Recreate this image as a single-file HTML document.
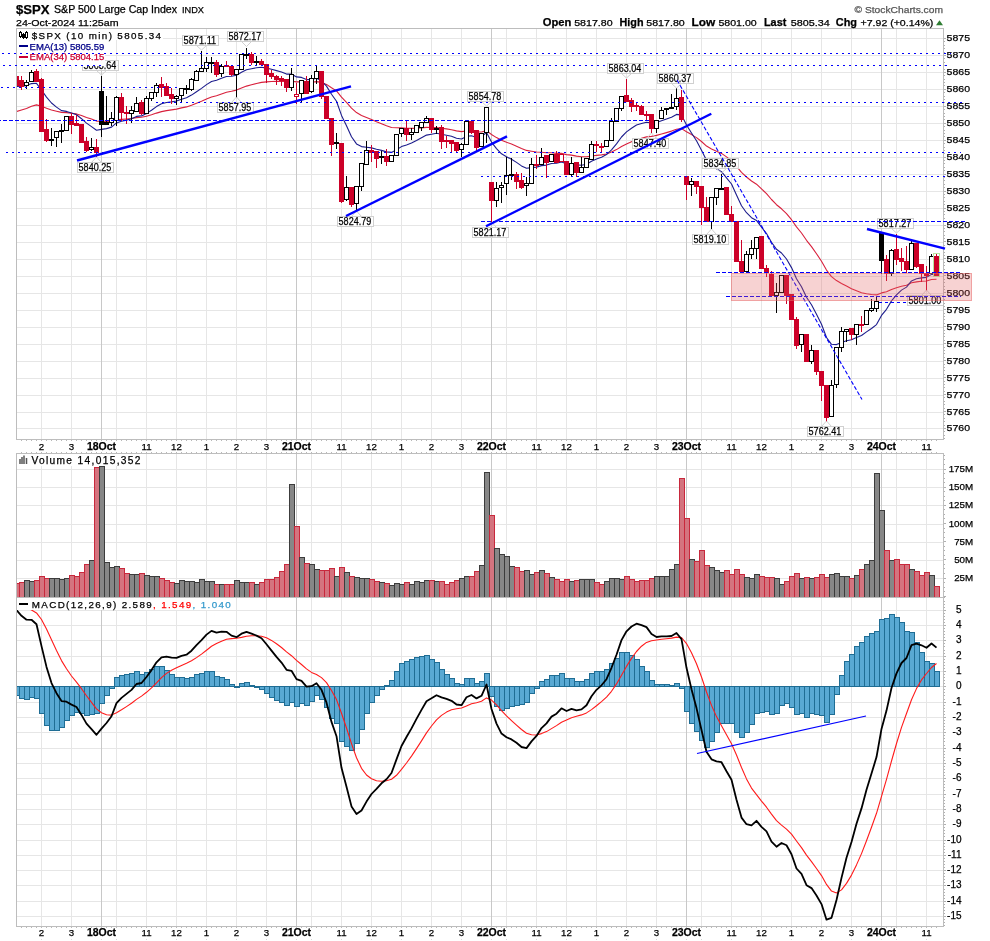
<!DOCTYPE html><html><head><meta charset="utf-8"><style>html,body{margin:0;padding:0;background:#fff;width:990px;height:941px;overflow:hidden;font-family:"Liberation Sans",sans-serif}</style></head><body><svg width="990" height="941" viewBox="0 0 990 941" style="position:absolute;left:0;top:0;display:block;will-change:transform" font-family="Liberation Sans, sans-serif">
<rect x="0" y="0" width="990" height="941" fill="#fff"/>
<defs><clipPath id="cm"><rect x="17" y="29" width="926" height="410"/></clipPath><clipPath id="cd"><rect x="17" y="29" width="600" height="410"/></clipPath><clipPath id="cc"><path clip-rule="evenodd" d="M17,29H943V439H17Z M17,29H163V40H105V66H17Z"/></clipPath><clipPath id="cv"><rect x="17" y="454" width="926" height="143"/></clipPath><clipPath id="ck"><rect x="17" y="598" width="926" height="328"/></clipPath></defs>
<g shape-rendering="crispEdges">
<line x1="16" y1="38.5" x2="943" y2="38.5" stroke="#e6e6e6"/>
<line x1="16" y1="55.5" x2="943" y2="55.5" stroke="#e6e6e6"/>
<line x1="16" y1="72.5" x2="943" y2="72.5" stroke="#e6e6e6"/>
<line x1="16" y1="89.5" x2="943" y2="89.5" stroke="#e6e6e6"/>
<line x1="16" y1="106.5" x2="943" y2="106.5" stroke="#e6e6e6"/>
<line x1="16" y1="123.5" x2="943" y2="123.5" stroke="#e6e6e6"/>
<line x1="16" y1="140.5" x2="943" y2="140.5" stroke="#e6e6e6"/>
<line x1="16" y1="157.5" x2="943" y2="157.5" stroke="#e6e6e6"/>
<line x1="16" y1="174.5" x2="943" y2="174.5" stroke="#e6e6e6"/>
<line x1="16" y1="191.5" x2="943" y2="191.5" stroke="#e6e6e6"/>
<line x1="16" y1="208.5" x2="943" y2="208.5" stroke="#e6e6e6"/>
<line x1="16" y1="225.5" x2="943" y2="225.5" stroke="#e6e6e6"/>
<line x1="16" y1="242.5" x2="943" y2="242.5" stroke="#e6e6e6"/>
<line x1="16" y1="259.5" x2="943" y2="259.5" stroke="#e6e6e6"/>
<line x1="16" y1="276.5" x2="943" y2="276.5" stroke="#e6e6e6"/>
<line x1="16" y1="293.5" x2="943" y2="293.5" stroke="#e6e6e6"/>
<line x1="16" y1="310.5" x2="943" y2="310.5" stroke="#e6e6e6"/>
<line x1="16" y1="327.5" x2="943" y2="327.5" stroke="#e6e6e6"/>
<line x1="16" y1="344.5" x2="943" y2="344.5" stroke="#e6e6e6"/>
<line x1="16" y1="361.5" x2="943" y2="361.5" stroke="#e6e6e6"/>
<line x1="16" y1="378.5" x2="943" y2="378.5" stroke="#e6e6e6"/>
<line x1="16" y1="395.5" x2="943" y2="395.5" stroke="#e6e6e6"/>
<line x1="16" y1="412.5" x2="943" y2="412.5" stroke="#e6e6e6"/>
<line x1="16" y1="428.5" x2="943" y2="428.5" stroke="#e6e6e6"/>
<line x1="41.5" y1="28" x2="41.5" y2="439" stroke="#e6e6e6"/>
<line x1="71.5" y1="28" x2="71.5" y2="439" stroke="#e6e6e6"/>
<line x1="101.5" y1="28" x2="101.5" y2="439" stroke="#c8c8c8"/>
<line x1="116.5" y1="28" x2="116.5" y2="439" stroke="#e6e6e6"/>
<line x1="146.5" y1="28" x2="146.5" y2="439" stroke="#e6e6e6"/>
<line x1="176.5" y1="28" x2="176.5" y2="439" stroke="#e6e6e6"/>
<line x1="206.5" y1="28" x2="206.5" y2="439" stroke="#e6e6e6"/>
<line x1="236.5" y1="28" x2="236.5" y2="439" stroke="#e6e6e6"/>
<line x1="266.5" y1="28" x2="266.5" y2="439" stroke="#e6e6e6"/>
<line x1="296.5" y1="28" x2="296.5" y2="439" stroke="#c8c8c8"/>
<line x1="311.5" y1="28" x2="311.5" y2="439" stroke="#e6e6e6"/>
<line x1="341.5" y1="28" x2="341.5" y2="439" stroke="#e6e6e6"/>
<line x1="371.5" y1="28" x2="371.5" y2="439" stroke="#e6e6e6"/>
<line x1="401.5" y1="28" x2="401.5" y2="439" stroke="#e6e6e6"/>
<line x1="431.5" y1="28" x2="431.5" y2="439" stroke="#e6e6e6"/>
<line x1="461.5" y1="28" x2="461.5" y2="439" stroke="#e6e6e6"/>
<line x1="491.5" y1="28" x2="491.5" y2="439" stroke="#c8c8c8"/>
<line x1="506.5" y1="28" x2="506.5" y2="439" stroke="#e6e6e6"/>
<line x1="536.5" y1="28" x2="536.5" y2="439" stroke="#e6e6e6"/>
<line x1="566.5" y1="28" x2="566.5" y2="439" stroke="#e6e6e6"/>
<line x1="596.5" y1="28" x2="596.5" y2="439" stroke="#e6e6e6"/>
<line x1="626.5" y1="28" x2="626.5" y2="439" stroke="#e6e6e6"/>
<line x1="656.5" y1="28" x2="656.5" y2="439" stroke="#e6e6e6"/>
<line x1="686.5" y1="28" x2="686.5" y2="439" stroke="#c8c8c8"/>
<line x1="701.5" y1="28" x2="701.5" y2="439" stroke="#e6e6e6"/>
<line x1="731.5" y1="28" x2="731.5" y2="439" stroke="#e6e6e6"/>
<line x1="761.5" y1="28" x2="761.5" y2="439" stroke="#e6e6e6"/>
<line x1="791.5" y1="28" x2="791.5" y2="439" stroke="#e6e6e6"/>
<line x1="821.5" y1="28" x2="821.5" y2="439" stroke="#e6e6e6"/>
<line x1="851.5" y1="28" x2="851.5" y2="439" stroke="#e6e6e6"/>
<line x1="881.5" y1="28" x2="881.5" y2="439" stroke="#c8c8c8"/>
<line x1="896.5" y1="28" x2="896.5" y2="439" stroke="#e6e6e6"/>
<line x1="926.5" y1="28" x2="926.5" y2="439" stroke="#e6e6e6"/>
<line x1="16" y1="578.5" x2="943" y2="578.5" stroke="#e6e6e6"/>
<line x1="16" y1="560.5" x2="943" y2="560.5" stroke="#e6e6e6"/>
<line x1="16" y1="542.5" x2="943" y2="542.5" stroke="#e6e6e6"/>
<line x1="16" y1="524.5" x2="943" y2="524.5" stroke="#e6e6e6"/>
<line x1="16" y1="505.5" x2="943" y2="505.5" stroke="#e6e6e6"/>
<line x1="16" y1="487.5" x2="943" y2="487.5" stroke="#e6e6e6"/>
<line x1="16" y1="469.5" x2="943" y2="469.5" stroke="#e6e6e6"/>
<line x1="41.5" y1="453" x2="41.5" y2="597" stroke="#e6e6e6"/>
<line x1="71.5" y1="453" x2="71.5" y2="597" stroke="#e6e6e6"/>
<line x1="101.5" y1="453" x2="101.5" y2="597" stroke="#c8c8c8"/>
<line x1="116.5" y1="453" x2="116.5" y2="597" stroke="#e6e6e6"/>
<line x1="146.5" y1="453" x2="146.5" y2="597" stroke="#e6e6e6"/>
<line x1="176.5" y1="453" x2="176.5" y2="597" stroke="#e6e6e6"/>
<line x1="206.5" y1="453" x2="206.5" y2="597" stroke="#e6e6e6"/>
<line x1="236.5" y1="453" x2="236.5" y2="597" stroke="#e6e6e6"/>
<line x1="266.5" y1="453" x2="266.5" y2="597" stroke="#e6e6e6"/>
<line x1="296.5" y1="453" x2="296.5" y2="597" stroke="#c8c8c8"/>
<line x1="311.5" y1="453" x2="311.5" y2="597" stroke="#e6e6e6"/>
<line x1="341.5" y1="453" x2="341.5" y2="597" stroke="#e6e6e6"/>
<line x1="371.5" y1="453" x2="371.5" y2="597" stroke="#e6e6e6"/>
<line x1="401.5" y1="453" x2="401.5" y2="597" stroke="#e6e6e6"/>
<line x1="431.5" y1="453" x2="431.5" y2="597" stroke="#e6e6e6"/>
<line x1="461.5" y1="453" x2="461.5" y2="597" stroke="#e6e6e6"/>
<line x1="491.5" y1="453" x2="491.5" y2="597" stroke="#c8c8c8"/>
<line x1="506.5" y1="453" x2="506.5" y2="597" stroke="#e6e6e6"/>
<line x1="536.5" y1="453" x2="536.5" y2="597" stroke="#e6e6e6"/>
<line x1="566.5" y1="453" x2="566.5" y2="597" stroke="#e6e6e6"/>
<line x1="596.5" y1="453" x2="596.5" y2="597" stroke="#e6e6e6"/>
<line x1="626.5" y1="453" x2="626.5" y2="597" stroke="#e6e6e6"/>
<line x1="656.5" y1="453" x2="656.5" y2="597" stroke="#e6e6e6"/>
<line x1="686.5" y1="453" x2="686.5" y2="597" stroke="#c8c8c8"/>
<line x1="701.5" y1="453" x2="701.5" y2="597" stroke="#e6e6e6"/>
<line x1="731.5" y1="453" x2="731.5" y2="597" stroke="#e6e6e6"/>
<line x1="761.5" y1="453" x2="761.5" y2="597" stroke="#e6e6e6"/>
<line x1="791.5" y1="453" x2="791.5" y2="597" stroke="#e6e6e6"/>
<line x1="821.5" y1="453" x2="821.5" y2="597" stroke="#e6e6e6"/>
<line x1="851.5" y1="453" x2="851.5" y2="597" stroke="#e6e6e6"/>
<line x1="881.5" y1="453" x2="881.5" y2="597" stroke="#c8c8c8"/>
<line x1="896.5" y1="453" x2="896.5" y2="597" stroke="#e6e6e6"/>
<line x1="926.5" y1="453" x2="926.5" y2="597" stroke="#e6e6e6"/>
<line x1="16" y1="916.5" x2="943" y2="916.5" stroke="#e6e6e6"/>
<line x1="16" y1="901.5" x2="943" y2="901.5" stroke="#e6e6e6"/>
<line x1="16" y1="885.5" x2="943" y2="885.5" stroke="#e6e6e6"/>
<line x1="16" y1="870.5" x2="943" y2="870.5" stroke="#e6e6e6"/>
<line x1="16" y1="855.5" x2="943" y2="855.5" stroke="#e6e6e6"/>
<line x1="16" y1="840.5" x2="943" y2="840.5" stroke="#e6e6e6"/>
<line x1="16" y1="824.5" x2="943" y2="824.5" stroke="#e6e6e6"/>
<line x1="16" y1="809.5" x2="943" y2="809.5" stroke="#e6e6e6"/>
<line x1="16" y1="794.5" x2="943" y2="794.5" stroke="#e6e6e6"/>
<line x1="16" y1="778.5" x2="943" y2="778.5" stroke="#e6e6e6"/>
<line x1="16" y1="763.5" x2="943" y2="763.5" stroke="#e6e6e6"/>
<line x1="16" y1="748.5" x2="943" y2="748.5" stroke="#e6e6e6"/>
<line x1="16" y1="732.5" x2="943" y2="732.5" stroke="#e6e6e6"/>
<line x1="16" y1="717.5" x2="943" y2="717.5" stroke="#e6e6e6"/>
<line x1="16" y1="702.5" x2="943" y2="702.5" stroke="#e6e6e6"/>
<line x1="16" y1="686.5" x2="943" y2="686.5" stroke="#e6e6e6"/>
<line x1="16" y1="671.5" x2="943" y2="671.5" stroke="#e6e6e6"/>
<line x1="16" y1="656.5" x2="943" y2="656.5" stroke="#e6e6e6"/>
<line x1="16" y1="640.5" x2="943" y2="640.5" stroke="#e6e6e6"/>
<line x1="16" y1="625.5" x2="943" y2="625.5" stroke="#e6e6e6"/>
<line x1="16" y1="610.5" x2="943" y2="610.5" stroke="#e6e6e6"/>
<line x1="41.5" y1="597" x2="41.5" y2="926" stroke="#e6e6e6"/>
<line x1="71.5" y1="597" x2="71.5" y2="926" stroke="#e6e6e6"/>
<line x1="101.5" y1="597" x2="101.5" y2="926" stroke="#c8c8c8"/>
<line x1="116.5" y1="597" x2="116.5" y2="926" stroke="#e6e6e6"/>
<line x1="146.5" y1="597" x2="146.5" y2="926" stroke="#e6e6e6"/>
<line x1="176.5" y1="597" x2="176.5" y2="926" stroke="#e6e6e6"/>
<line x1="206.5" y1="597" x2="206.5" y2="926" stroke="#e6e6e6"/>
<line x1="236.5" y1="597" x2="236.5" y2="926" stroke="#e6e6e6"/>
<line x1="266.5" y1="597" x2="266.5" y2="926" stroke="#e6e6e6"/>
<line x1="296.5" y1="597" x2="296.5" y2="926" stroke="#c8c8c8"/>
<line x1="311.5" y1="597" x2="311.5" y2="926" stroke="#e6e6e6"/>
<line x1="341.5" y1="597" x2="341.5" y2="926" stroke="#e6e6e6"/>
<line x1="371.5" y1="597" x2="371.5" y2="926" stroke="#e6e6e6"/>
<line x1="401.5" y1="597" x2="401.5" y2="926" stroke="#e6e6e6"/>
<line x1="431.5" y1="597" x2="431.5" y2="926" stroke="#e6e6e6"/>
<line x1="461.5" y1="597" x2="461.5" y2="926" stroke="#e6e6e6"/>
<line x1="491.5" y1="597" x2="491.5" y2="926" stroke="#c8c8c8"/>
<line x1="506.5" y1="597" x2="506.5" y2="926" stroke="#e6e6e6"/>
<line x1="536.5" y1="597" x2="536.5" y2="926" stroke="#e6e6e6"/>
<line x1="566.5" y1="597" x2="566.5" y2="926" stroke="#e6e6e6"/>
<line x1="596.5" y1="597" x2="596.5" y2="926" stroke="#e6e6e6"/>
<line x1="626.5" y1="597" x2="626.5" y2="926" stroke="#e6e6e6"/>
<line x1="656.5" y1="597" x2="656.5" y2="926" stroke="#e6e6e6"/>
<line x1="686.5" y1="597" x2="686.5" y2="926" stroke="#c8c8c8"/>
<line x1="701.5" y1="597" x2="701.5" y2="926" stroke="#e6e6e6"/>
<line x1="731.5" y1="597" x2="731.5" y2="926" stroke="#e6e6e6"/>
<line x1="761.5" y1="597" x2="761.5" y2="926" stroke="#e6e6e6"/>
<line x1="791.5" y1="597" x2="791.5" y2="926" stroke="#e6e6e6"/>
<line x1="821.5" y1="597" x2="821.5" y2="926" stroke="#e6e6e6"/>
<line x1="851.5" y1="597" x2="851.5" y2="926" stroke="#e6e6e6"/>
<line x1="881.5" y1="597" x2="881.5" y2="926" stroke="#c8c8c8"/>
<line x1="896.5" y1="597" x2="896.5" y2="926" stroke="#e6e6e6"/>
<line x1="926.5" y1="597" x2="926.5" y2="926" stroke="#e6e6e6"/>
</g>
<rect x="17" y="29" width="146" height="11" fill="#fff"/>
<rect x="17" y="40" width="88" height="26" fill="#fff"/>
<polyline points="16.5,111.5 21.5,110.0 26.5,108.4 31.5,106.3 36.5,104.9 41.5,106.3 46.5,108.2 51.5,110.0 56.5,111.2 61.5,112.4 66.5,112.6 71.5,113.2 76.5,113.9 81.5,115.5 86.5,117.4 91.5,119.1 96.5,121.1 101.5,121.2 106.5,121.4 111.5,121.2 116.5,119.8 121.5,119.4 126.5,119.0 131.5,118.5 136.5,117.6 141.5,117.3 146.5,116.2 151.5,114.8 156.5,113.1 161.5,111.6 166.5,110.6 171.5,109.9 176.5,109.1 181.5,107.9 186.5,106.9 191.5,105.3 196.5,103.3 201.5,101.3 206.5,99.1 211.5,97.0 216.5,95.7 221.5,93.9 226.5,92.3 231.5,91.3 236.5,90.1 241.5,88.0 246.5,86.1 251.5,84.8 256.5,83.5 261.5,82.4 266.5,81.9 271.5,81.5 276.5,81.4 281.5,81.3 286.5,81.6 291.5,81.2 296.5,81.9 301.5,81.8 306.5,82.4 311.5,82.2 316.5,81.6 321.5,82.4 326.5,84.4 331.5,87.8 336.5,90.9 341.5,97.2 346.5,102.3 351.5,108.1 356.5,112.6 361.5,115.5 366.5,117.5 371.5,119.5 376.5,121.7 381.5,123.7 386.5,125.8 391.5,127.5 396.5,127.8 401.5,127.9 406.5,128.2 411.5,128.4 416.5,128.3 421.5,127.9 426.5,127.4 431.5,127.5 436.5,127.5 441.5,128.2 446.5,128.9 451.5,129.7 456.5,130.9 461.5,131.6 466.5,131.0 471.5,131.1 476.5,132.0 481.5,132.0 486.5,130.6 491.5,134.5 496.5,137.6 501.5,140.3 506.5,142.2 511.5,144.1 516.5,146.2 521.5,148.5 526.5,150.4 531.5,151.2 536.5,152.0 541.5,152.2 546.5,152.8 551.5,152.8 556.5,153.4 561.5,153.4 566.5,154.6 571.5,155.1 576.5,156.1 581.5,156.7 586.5,156.8 591.5,156.0 596.5,155.4 601.5,154.9 606.5,154.0 611.5,152.1 616.5,149.6 621.5,146.5 626.5,144.0 631.5,141.8 636.5,139.7 641.5,138.3 646.5,136.9 651.5,136.4 656.5,135.4 661.5,134.0 666.5,132.6 671.5,131.1 676.5,129.2 681.5,128.6 686.5,131.8 691.5,134.6 696.5,137.6 701.5,141.5 706.5,146.1 711.5,149.0 716.5,151.2 721.5,153.4 726.5,156.9 731.5,160.6 736.5,166.3 741.5,172.3 746.5,177.0 751.5,181.0 756.5,184.2 761.5,188.9 766.5,193.7 771.5,199.5 776.5,204.7 781.5,208.8 786.5,213.7 791.5,219.7 796.5,226.9 801.5,233.0 806.5,240.3 811.5,246.6 816.5,253.7 821.5,261.2 826.5,270.1 831.5,276.6 836.5,280.6 841.5,283.5 846.5,286.1 851.5,288.8 856.5,290.8 861.5,292.7 866.5,293.7 871.5,294.5 876.5,294.9 881.5,292.9 886.5,291.8 891.5,289.4 896.5,287.7 901.5,286.2 906.5,285.2 911.5,282.8 916.5,281.9 921.5,281.3 926.5,281.0 931.5,279.5 936.5,279.3" fill="none" stroke="#d8203c" stroke-width="1.1" stroke-linejoin="round" clip-path="url(#cm)"/>
<polyline points="16.5,86.4 21.5,86.2 26.5,85.6 31.5,83.6 36.5,83.3 41.5,90.0 46.5,97.1 51.5,103.0 56.5,107.1 61.5,110.6 66.5,111.4 71.5,113.1 76.5,114.8 81.5,118.7 86.5,123.1 91.5,126.6 96.5,130.3 101.5,129.4 106.5,128.6 111.5,127.1 116.5,122.9 121.5,121.3 126.5,120.1 131.5,118.7 136.5,116.4 141.5,115.9 146.5,113.4 151.5,110.2 156.5,106.6 161.5,103.8 166.5,102.5 171.5,101.9 176.5,101.0 181.5,99.2 186.5,97.7 191.5,95.1 196.5,91.7 201.5,88.4 206.5,84.6 211.5,81.5 216.5,80.3 221.5,78.2 226.5,76.5 231.5,76.2 236.5,75.2 241.5,72.2 246.5,69.7 251.5,68.7 256.5,67.8 261.5,67.2 266.5,68.1 271.5,69.3 276.5,70.6 281.5,72.0 286.5,74.1 291.5,74.0 296.5,76.9 301.5,77.4 306.5,79.6 311.5,79.4 316.5,78.3 321.5,80.8 326.5,86.1 331.5,94.3 336.5,101.2 341.5,115.4 346.5,125.7 351.5,136.8 356.5,143.9 361.5,146.6 366.5,147.2 371.5,147.9 376.5,149.3 381.5,150.4 386.5,151.9 391.5,152.4 396.5,149.7 401.5,146.6 406.5,144.9 411.5,143.0 416.5,140.5 421.5,137.8 426.5,135.1 431.5,134.2 436.5,133.3 441.5,134.3 446.5,135.2 451.5,136.3 456.5,138.2 461.5,139.0 466.5,136.4 471.5,135.8 476.5,137.4 481.5,136.7 486.5,132.5 491.5,142.1 496.5,148.6 501.5,153.8 506.5,156.7 511.5,159.3 516.5,162.4 521.5,165.9 526.5,168.3 531.5,167.6 536.5,167.1 541.5,165.6 546.5,165.1 551.5,163.5 556.5,163.3 561.5,161.9 566.5,163.7 571.5,163.6 576.5,164.9 581.5,165.2 586.5,164.2 591.5,161.2 596.5,158.9 601.5,157.2 606.5,154.6 611.5,149.8 616.5,143.9 621.5,137.0 626.5,131.9 631.5,128.2 636.5,125.0 641.5,123.5 646.5,122.2 651.5,123.0 656.5,122.5 661.5,120.7 666.5,119.0 671.5,117.3 676.5,114.4 681.5,115.1 686.5,125.0 691.5,133.0 696.5,140.7 701.5,150.2 706.5,160.3 711.5,165.5 716.5,168.8 721.5,171.7 726.5,177.8 731.5,184.0 736.5,195.0 741.5,205.8 746.5,212.7 751.5,217.7 756.5,220.4 761.5,227.2 766.5,233.6 771.5,242.3 776.5,249.3 781.5,253.0 786.5,259.0 791.5,267.6 796.5,278.7 801.5,286.7 806.5,297.2 811.5,304.8 816.5,314.2 821.5,324.3 826.5,337.5 831.5,344.3 836.5,344.6 841.5,342.6 846.5,340.7 851.5,339.7 856.5,337.4 861.5,335.5 866.5,331.9 871.5,328.5 876.5,324.6 881.5,315.4 886.5,309.3 891.5,300.9 896.5,294.9 901.5,290.1 906.5,287.1 911.5,280.9 916.5,278.8 921.5,277.9 926.5,277.4 931.5,274.4 936.5,274.5" fill="none" stroke="#1c1c8c" stroke-width="1.1" stroke-linejoin="round" clip-path="url(#cm)"/>
<g shape-rendering="crispEdges" clip-path="url(#cm)">
<line x1="16.5" y1="76" x2="16.5" y2="87" stroke="#cc0028"/>
<rect x="14" y="76" width="5" height="10" fill="#cc0028"/>
<line x1="21.5" y1="76" x2="21.5" y2="90" stroke="#cc0028"/>
<rect x="19" y="80" width="5" height="7" fill="#cc0028"/>
<line x1="26.5" y1="80" x2="26.5" y2="89" stroke="#000"/>
<rect x="24.5" y="82.5" width="4" height="3" fill="#fff" stroke="#000"/>
<line x1="31.5" y1="70" x2="31.5" y2="82" stroke="#000"/>
<rect x="29.5" y="72.5" width="4" height="9" fill="#fff" stroke="#000"/>
<line x1="36.5" y1="69" x2="36.5" y2="82" stroke="#cc0028"/>
<rect x="34" y="71" width="5" height="11" fill="#cc0028"/>
<line x1="41.5" y1="78" x2="41.5" y2="132" stroke="#cc0028"/>
<rect x="39" y="79" width="5" height="53" fill="#cc0028"/>
<line x1="46.5" y1="119" x2="46.5" y2="142" stroke="#cc0028"/>
<rect x="44" y="129" width="5" height="12" fill="#cc0028"/>
<line x1="51.5" y1="128" x2="51.5" y2="146" stroke="#000"/>
<rect x="49" y="139" width="5" height="2" fill="#000"/>
<line x1="56.5" y1="131" x2="56.5" y2="147" stroke="#000"/>
<rect x="54.5" y="131.5" width="4" height="6" fill="#fff" stroke="#000"/>
<line x1="61.5" y1="124" x2="61.5" y2="143" stroke="#000"/>
<rect x="59" y="130" width="5" height="2" fill="#000"/>
<line x1="66.5" y1="116" x2="66.5" y2="131" stroke="#000"/>
<rect x="64.5" y="116.5" width="4" height="14" fill="#fff" stroke="#000"/>
<line x1="71.5" y1="113" x2="71.5" y2="134" stroke="#cc0028"/>
<rect x="69" y="116" width="5" height="9" fill="#cc0028"/>
<line x1="76.5" y1="115" x2="76.5" y2="126" stroke="#cc0028"/>
<rect x="74" y="123" width="5" height="3" fill="#cc0028"/>
<line x1="81.5" y1="124" x2="81.5" y2="143" stroke="#cc0028"/>
<rect x="79" y="124" width="5" height="19" fill="#cc0028"/>
<line x1="86.5" y1="137" x2="86.5" y2="152" stroke="#cc0028"/>
<rect x="84" y="141" width="5" height="10" fill="#cc0028"/>
<line x1="91.5" y1="138" x2="91.5" y2="151" stroke="#000"/>
<rect x="89.5" y="147.5" width="4" height="2" fill="#fff" stroke="#000"/>
<line x1="96.5" y1="139" x2="96.5" y2="157" stroke="#cc0028"/>
<rect x="94" y="147" width="5" height="6" fill="#cc0028"/>
<line x1="101.5" y1="76" x2="101.5" y2="137" stroke="#000"/>
<rect x="99" y="91" width="5" height="34" fill="#000"/>
<line x1="106.5" y1="96" x2="106.5" y2="125" stroke="#000"/>
<rect x="104" y="122" width="5" height="3" fill="#000"/>
<line x1="111.5" y1="112" x2="111.5" y2="126" stroke="#000"/>
<rect x="109.5" y="118.5" width="4" height="4" fill="#fff" stroke="#000"/>
<line x1="116.5" y1="96" x2="116.5" y2="126" stroke="#000"/>
<rect x="114.5" y="97.5" width="4" height="23" fill="#fff" stroke="#000"/>
<line x1="121.5" y1="93" x2="121.5" y2="121" stroke="#cc0028"/>
<rect x="119" y="97" width="5" height="16" fill="#cc0028"/>
<line x1="126.5" y1="106" x2="126.5" y2="124" stroke="#cc0028"/>
<rect x="124" y="112" width="5" height="2" fill="#cc0028"/>
<line x1="131.5" y1="106" x2="131.5" y2="123" stroke="#000"/>
<rect x="129.5" y="110.5" width="4" height="3" fill="#fff" stroke="#000"/>
<line x1="136.5" y1="97" x2="136.5" y2="112" stroke="#000"/>
<rect x="134.5" y="103.5" width="4" height="8" fill="#fff" stroke="#000"/>
<line x1="141.5" y1="100" x2="141.5" y2="115" stroke="#cc0028"/>
<rect x="139" y="102" width="5" height="12" fill="#cc0028"/>
<line x1="146.5" y1="96" x2="146.5" y2="114" stroke="#000"/>
<rect x="144.5" y="98.5" width="4" height="15" fill="#fff" stroke="#000"/>
<line x1="151.5" y1="92" x2="151.5" y2="101" stroke="#000"/>
<rect x="149.5" y="92.5" width="4" height="6" fill="#fff" stroke="#000"/>
<line x1="156.5" y1="83" x2="156.5" y2="97" stroke="#000"/>
<rect x="154.5" y="85.5" width="4" height="7" fill="#fff" stroke="#000"/>
<line x1="161.5" y1="77" x2="161.5" y2="97" stroke="#cc0028"/>
<rect x="159" y="84" width="5" height="4" fill="#cc0028"/>
<line x1="166.5" y1="83" x2="166.5" y2="96" stroke="#cc0028"/>
<rect x="164" y="86" width="5" height="10" fill="#cc0028"/>
<line x1="171.5" y1="88" x2="171.5" y2="104" stroke="#cc0028"/>
<rect x="169" y="94" width="5" height="5" fill="#cc0028"/>
<line x1="176.5" y1="95" x2="176.5" y2="105" stroke="#000"/>
<rect x="174.5" y="96.5" width="4" height="2" fill="#fff" stroke="#000"/>
<line x1="181.5" y1="88" x2="181.5" y2="103" stroke="#000"/>
<rect x="179.5" y="88.5" width="4" height="7" fill="#fff" stroke="#000"/>
<line x1="186.5" y1="85" x2="186.5" y2="94" stroke="#000"/>
<rect x="184" y="88" width="5" height="2" fill="#000"/>
<line x1="191.5" y1="78" x2="191.5" y2="91" stroke="#000"/>
<rect x="189.5" y="79.5" width="4" height="10" fill="#fff" stroke="#000"/>
<line x1="196.5" y1="70" x2="196.5" y2="81" stroke="#000"/>
<rect x="194.5" y="71.5" width="4" height="9" fill="#fff" stroke="#000"/>
<line x1="201.5" y1="51" x2="201.5" y2="72" stroke="#000"/>
<rect x="199.5" y="68.5" width="4" height="3" fill="#fff" stroke="#000"/>
<line x1="206.5" y1="57" x2="206.5" y2="72" stroke="#000"/>
<rect x="204.5" y="62.5" width="4" height="6" fill="#fff" stroke="#000"/>
<line x1="211.5" y1="57" x2="211.5" y2="73" stroke="#000"/>
<rect x="209" y="62" width="5" height="2" fill="#000"/>
<line x1="216.5" y1="60" x2="216.5" y2="77" stroke="#cc0028"/>
<rect x="214" y="62" width="5" height="13" fill="#cc0028"/>
<line x1="221.5" y1="64" x2="221.5" y2="77" stroke="#000"/>
<rect x="219.5" y="66.5" width="4" height="7" fill="#fff" stroke="#000"/>
<line x1="226.5" y1="61" x2="226.5" y2="67" stroke="#cc0028"/>
<rect x="224" y="65" width="5" height="2" fill="#cc0028"/>
<line x1="231.5" y1="66" x2="231.5" y2="76" stroke="#cc0028"/>
<rect x="229" y="66" width="5" height="9" fill="#cc0028"/>
<line x1="236.5" y1="69" x2="236.5" y2="98" stroke="#000"/>
<rect x="234.5" y="69.5" width="4" height="5" fill="#fff" stroke="#000"/>
<line x1="241.5" y1="54" x2="241.5" y2="70" stroke="#000"/>
<rect x="239.5" y="54.5" width="4" height="15" fill="#fff" stroke="#000"/>
<line x1="246.5" y1="48" x2="246.5" y2="59" stroke="#000"/>
<rect x="244" y="54" width="5" height="2" fill="#000"/>
<line x1="251.5" y1="52" x2="251.5" y2="65" stroke="#cc0028"/>
<rect x="249" y="54" width="5" height="9" fill="#cc0028"/>
<line x1="256.5" y1="56" x2="256.5" y2="66" stroke="#000"/>
<rect x="254" y="61" width="5" height="2" fill="#000"/>
<line x1="261.5" y1="59" x2="261.5" y2="66" stroke="#cc0028"/>
<rect x="259" y="61" width="5" height="4" fill="#cc0028"/>
<line x1="266.5" y1="64" x2="266.5" y2="83" stroke="#cc0028"/>
<rect x="264" y="64" width="5" height="11" fill="#cc0028"/>
<line x1="271.5" y1="70" x2="271.5" y2="79" stroke="#cc0028"/>
<rect x="269" y="73" width="5" height="4" fill="#cc0028"/>
<line x1="276.5" y1="75" x2="276.5" y2="85" stroke="#cc0028"/>
<rect x="274" y="76" width="5" height="4" fill="#cc0028"/>
<line x1="281.5" y1="76" x2="281.5" y2="86" stroke="#cc0028"/>
<rect x="279" y="78" width="5" height="3" fill="#cc0028"/>
<line x1="286.5" y1="79" x2="286.5" y2="92" stroke="#cc0028"/>
<rect x="284" y="79" width="5" height="9" fill="#cc0028"/>
<line x1="291.5" y1="68" x2="291.5" y2="91" stroke="#000"/>
<rect x="289.5" y="74.5" width="4" height="13" fill="#fff" stroke="#000"/>
<line x1="296.5" y1="83" x2="296.5" y2="104" stroke="#cc0028"/>
<rect x="294.5" y="94.5" width="4" height="2" fill="#fff" stroke="#cc0028"/>
<line x1="301.5" y1="80" x2="301.5" y2="103" stroke="#000"/>
<rect x="299.5" y="80.5" width="4" height="13" fill="#fff" stroke="#000"/>
<line x1="306.5" y1="76" x2="306.5" y2="94" stroke="#cc0028"/>
<rect x="304" y="81" width="5" height="13" fill="#cc0028"/>
<line x1="311.5" y1="75" x2="311.5" y2="93" stroke="#000"/>
<rect x="309.5" y="78.5" width="4" height="13" fill="#fff" stroke="#000"/>
<line x1="316.5" y1="66" x2="316.5" y2="84" stroke="#000"/>
<rect x="314.5" y="71.5" width="4" height="7" fill="#fff" stroke="#000"/>
<line x1="321.5" y1="71" x2="321.5" y2="99" stroke="#cc0028"/>
<rect x="319" y="71" width="5" height="26" fill="#cc0028"/>
<line x1="326.5" y1="96" x2="326.5" y2="119" stroke="#cc0028"/>
<rect x="324" y="96" width="5" height="23" fill="#cc0028"/>
<line x1="331.5" y1="118" x2="331.5" y2="156" stroke="#cc0028"/>
<rect x="329" y="118" width="5" height="27" fill="#cc0028"/>
<line x1="336.5" y1="133" x2="336.5" y2="149" stroke="#000"/>
<rect x="334" y="142" width="5" height="2" fill="#000"/>
<line x1="341.5" y1="143" x2="341.5" y2="203" stroke="#cc0028"/>
<rect x="339" y="143" width="5" height="59" fill="#cc0028"/>
<line x1="346.5" y1="176" x2="346.5" y2="201" stroke="#000"/>
<rect x="344.5" y="187.5" width="4" height="12" fill="#fff" stroke="#000"/>
<line x1="351.5" y1="187" x2="351.5" y2="207" stroke="#cc0028"/>
<rect x="349" y="187" width="5" height="18" fill="#cc0028"/>
<line x1="356.5" y1="186" x2="356.5" y2="210" stroke="#000"/>
<rect x="354.5" y="186.5" width="4" height="17" fill="#fff" stroke="#000"/>
<line x1="361.5" y1="163" x2="361.5" y2="191" stroke="#000"/>
<rect x="359.5" y="163.5" width="4" height="23" fill="#fff" stroke="#000"/>
<line x1="366.5" y1="141" x2="366.5" y2="165" stroke="#000"/>
<rect x="364.5" y="150.5" width="4" height="14" fill="#fff" stroke="#000"/>
<line x1="371.5" y1="145" x2="371.5" y2="162" stroke="#cc0028"/>
<rect x="369" y="150" width="5" height="3" fill="#cc0028"/>
<line x1="376.5" y1="151" x2="376.5" y2="168" stroke="#cc0028"/>
<rect x="374" y="151" width="5" height="8" fill="#cc0028"/>
<line x1="381.5" y1="151" x2="381.5" y2="164" stroke="#000"/>
<rect x="379" y="156" width="5" height="2" fill="#000"/>
<line x1="386.5" y1="149" x2="386.5" y2="166" stroke="#cc0028"/>
<rect x="384" y="156" width="5" height="6" fill="#cc0028"/>
<line x1="391.5" y1="155" x2="391.5" y2="162" stroke="#000"/>
<rect x="389.5" y="155.5" width="4" height="6" fill="#fff" stroke="#000"/>
<line x1="396.5" y1="134" x2="396.5" y2="156" stroke="#000"/>
<rect x="394.5" y="134.5" width="4" height="21" fill="#fff" stroke="#000"/>
<line x1="401.5" y1="128" x2="401.5" y2="137" stroke="#000"/>
<rect x="399.5" y="128.5" width="4" height="5" fill="#fff" stroke="#000"/>
<line x1="406.5" y1="121" x2="406.5" y2="141" stroke="#cc0028"/>
<rect x="404" y="128" width="5" height="7" fill="#cc0028"/>
<line x1="411.5" y1="128" x2="411.5" y2="140" stroke="#000"/>
<rect x="409.5" y="132.5" width="4" height="2" fill="#fff" stroke="#000"/>
<line x1="416.5" y1="125" x2="416.5" y2="133" stroke="#000"/>
<rect x="414.5" y="125.5" width="4" height="7" fill="#fff" stroke="#000"/>
<line x1="421.5" y1="122" x2="421.5" y2="131" stroke="#000"/>
<rect x="419.5" y="122.5" width="4" height="5" fill="#fff" stroke="#000"/>
<line x1="426.5" y1="116" x2="426.5" y2="123" stroke="#000"/>
<rect x="424.5" y="118.5" width="4" height="4" fill="#fff" stroke="#000"/>
<line x1="431.5" y1="118" x2="431.5" y2="133" stroke="#cc0028"/>
<rect x="429" y="118" width="5" height="12" fill="#cc0028"/>
<line x1="436.5" y1="126" x2="436.5" y2="134" stroke="#000"/>
<rect x="434" y="128" width="5" height="2" fill="#000"/>
<line x1="441.5" y1="125" x2="441.5" y2="149" stroke="#cc0028"/>
<rect x="439" y="127" width="5" height="15" fill="#cc0028"/>
<line x1="446.5" y1="136" x2="446.5" y2="148" stroke="#cc0028"/>
<rect x="444" y="140" width="5" height="2" fill="#cc0028"/>
<line x1="451.5" y1="140" x2="451.5" y2="152" stroke="#cc0028"/>
<rect x="449" y="140" width="5" height="4" fill="#cc0028"/>
<line x1="456.5" y1="142" x2="456.5" y2="153" stroke="#cc0028"/>
<rect x="454" y="142" width="5" height="9" fill="#cc0028"/>
<line x1="461.5" y1="143" x2="461.5" y2="157" stroke="#000"/>
<rect x="459.5" y="144.5" width="4" height="5" fill="#fff" stroke="#000"/>
<line x1="466.5" y1="121" x2="466.5" y2="145" stroke="#000"/>
<rect x="464.5" y="121.5" width="4" height="23" fill="#fff" stroke="#000"/>
<line x1="471.5" y1="121" x2="471.5" y2="134" stroke="#cc0028"/>
<rect x="469" y="121" width="5" height="12" fill="#cc0028"/>
<line x1="476.5" y1="130" x2="476.5" y2="151" stroke="#cc0028"/>
<rect x="474" y="130" width="5" height="18" fill="#cc0028"/>
<line x1="481.5" y1="133" x2="481.5" y2="147" stroke="#000"/>
<rect x="479.5" y="133.5" width="4" height="13" fill="#fff" stroke="#000"/>
<line x1="486.5" y1="107" x2="486.5" y2="143" stroke="#000"/>
<rect x="484.5" y="107.5" width="4" height="25" fill="#fff" stroke="#000"/>
<line x1="491.5" y1="182" x2="491.5" y2="222" stroke="#cc0028"/>
<rect x="489" y="182" width="5" height="19" fill="#cc0028"/>
<line x1="496.5" y1="182" x2="496.5" y2="207" stroke="#000"/>
<rect x="494.5" y="188.5" width="4" height="12" fill="#fff" stroke="#000"/>
<line x1="501.5" y1="182" x2="501.5" y2="203" stroke="#000"/>
<rect x="499.5" y="185.5" width="4" height="2" fill="#fff" stroke="#000"/>
<line x1="506.5" y1="157" x2="506.5" y2="195" stroke="#000"/>
<rect x="504.5" y="175.5" width="4" height="8" fill="#fff" stroke="#000"/>
<line x1="511.5" y1="158" x2="511.5" y2="180" stroke="#000"/>
<rect x="509" y="174" width="5" height="2" fill="#000"/>
<line x1="516.5" y1="172" x2="516.5" y2="189" stroke="#cc0028"/>
<rect x="514" y="174" width="5" height="8" fill="#cc0028"/>
<line x1="521.5" y1="173" x2="521.5" y2="189" stroke="#cc0028"/>
<rect x="519" y="180" width="5" height="8" fill="#cc0028"/>
<line x1="526.5" y1="177" x2="526.5" y2="196" stroke="#000"/>
<rect x="524.5" y="183.5" width="4" height="2" fill="#fff" stroke="#000"/>
<line x1="531.5" y1="158" x2="531.5" y2="184" stroke="#000"/>
<rect x="529.5" y="164.5" width="4" height="19" fill="#fff" stroke="#000"/>
<line x1="536.5" y1="155" x2="536.5" y2="169" stroke="#cc0028"/>
<rect x="534" y="164" width="5" height="2" fill="#cc0028"/>
<line x1="541.5" y1="148" x2="541.5" y2="165" stroke="#000"/>
<rect x="539.5" y="157.5" width="4" height="7" fill="#fff" stroke="#000"/>
<line x1="546.5" y1="155" x2="546.5" y2="178" stroke="#cc0028"/>
<rect x="544" y="155" width="5" height="8" fill="#cc0028"/>
<line x1="551.5" y1="154" x2="551.5" y2="162" stroke="#000"/>
<rect x="549.5" y="154.5" width="4" height="7" fill="#fff" stroke="#000"/>
<line x1="556.5" y1="151" x2="556.5" y2="163" stroke="#cc0028"/>
<rect x="554" y="154" width="5" height="9" fill="#cc0028"/>
<line x1="561.5" y1="154" x2="561.5" y2="162" stroke="#cc0028"/>
<rect x="559.5" y="154.5" width="4" height="7" fill="#fff" stroke="#cc0028"/>
<line x1="566.5" y1="161" x2="566.5" y2="175" stroke="#cc0028"/>
<rect x="564" y="161" width="5" height="14" fill="#cc0028"/>
<line x1="571.5" y1="157" x2="571.5" y2="176" stroke="#000"/>
<rect x="569.5" y="163.5" width="4" height="11" fill="#fff" stroke="#000"/>
<line x1="576.5" y1="162" x2="576.5" y2="177" stroke="#cc0028"/>
<rect x="574" y="162" width="5" height="11" fill="#cc0028"/>
<line x1="581.5" y1="157" x2="581.5" y2="173" stroke="#000"/>
<rect x="579.5" y="167.5" width="4" height="5" fill="#fff" stroke="#000"/>
<line x1="586.5" y1="158" x2="586.5" y2="168" stroke="#000"/>
<rect x="584.5" y="158.5" width="4" height="9" fill="#fff" stroke="#000"/>
<line x1="591.5" y1="141" x2="591.5" y2="160" stroke="#000"/>
<rect x="589.5" y="144.5" width="4" height="15" fill="#fff" stroke="#000"/>
<line x1="596.5" y1="141" x2="596.5" y2="152" stroke="#cc0028"/>
<rect x="594" y="144" width="5" height="2" fill="#cc0028"/>
<line x1="601.5" y1="143" x2="601.5" y2="152" stroke="#cc0028"/>
<rect x="599" y="146" width="5" height="2" fill="#cc0028"/>
<line x1="606.5" y1="140" x2="606.5" y2="147" stroke="#000"/>
<rect x="604.5" y="140.5" width="4" height="6" fill="#fff" stroke="#000"/>
<line x1="611.5" y1="118" x2="611.5" y2="141" stroke="#000"/>
<rect x="609.5" y="121.5" width="4" height="19" fill="#fff" stroke="#000"/>
<line x1="616.5" y1="108" x2="616.5" y2="122" stroke="#000"/>
<rect x="614.5" y="108.5" width="4" height="13" fill="#fff" stroke="#000"/>
<line x1="621.5" y1="96" x2="621.5" y2="111" stroke="#000"/>
<rect x="619.5" y="96.5" width="4" height="12" fill="#fff" stroke="#000"/>
<line x1="626.5" y1="79" x2="626.5" y2="102" stroke="#cc0028"/>
<rect x="624" y="95" width="5" height="7" fill="#cc0028"/>
<line x1="631.5" y1="98" x2="631.5" y2="112" stroke="#cc0028"/>
<rect x="629" y="100" width="5" height="7" fill="#cc0028"/>
<line x1="636.5" y1="102" x2="636.5" y2="111" stroke="#cc0028"/>
<rect x="634" y="105" width="5" height="2" fill="#cc0028"/>
<line x1="641.5" y1="105" x2="641.5" y2="115" stroke="#cc0028"/>
<rect x="639" y="106" width="5" height="9" fill="#cc0028"/>
<line x1="646.5" y1="111" x2="646.5" y2="121" stroke="#cc0028"/>
<rect x="644" y="114" width="5" height="2" fill="#cc0028"/>
<line x1="651.5" y1="114" x2="651.5" y2="133" stroke="#cc0028"/>
<rect x="649" y="114" width="5" height="15" fill="#cc0028"/>
<line x1="656.5" y1="120" x2="656.5" y2="133" stroke="#000"/>
<rect x="654.5" y="120.5" width="4" height="8" fill="#fff" stroke="#000"/>
<line x1="661.5" y1="107" x2="661.5" y2="119" stroke="#000"/>
<rect x="659.5" y="110.5" width="4" height="8" fill="#fff" stroke="#000"/>
<line x1="666.5" y1="108" x2="666.5" y2="115" stroke="#000"/>
<rect x="664" y="108" width="5" height="2" fill="#000"/>
<line x1="671.5" y1="94" x2="671.5" y2="109" stroke="#000"/>
<rect x="669" y="107" width="5" height="2" fill="#000"/>
<line x1="676.5" y1="88" x2="676.5" y2="110" stroke="#000"/>
<rect x="674.5" y="98.5" width="4" height="8" fill="#fff" stroke="#000"/>
<line x1="681.5" y1="90" x2="681.5" y2="122" stroke="#cc0028"/>
<rect x="679" y="97" width="5" height="23" fill="#cc0028"/>
<line x1="686.5" y1="176" x2="686.5" y2="200" stroke="#cc0028"/>
<rect x="684" y="176" width="5" height="9" fill="#cc0028"/>
<line x1="691.5" y1="178" x2="691.5" y2="196" stroke="#000"/>
<rect x="689.5" y="181.5" width="4" height="3" fill="#fff" stroke="#000"/>
<line x1="696.5" y1="181" x2="696.5" y2="194" stroke="#cc0028"/>
<rect x="694" y="181" width="5" height="6" fill="#cc0028"/>
<line x1="701.5" y1="186" x2="701.5" y2="225" stroke="#cc0028"/>
<rect x="699" y="186" width="5" height="22" fill="#cc0028"/>
<line x1="706.5" y1="197" x2="706.5" y2="222" stroke="#cc0028"/>
<rect x="704" y="207" width="5" height="15" fill="#cc0028"/>
<line x1="711.5" y1="197" x2="711.5" y2="229" stroke="#000"/>
<rect x="709.5" y="197.5" width="4" height="24" fill="#fff" stroke="#000"/>
<line x1="716.5" y1="188" x2="716.5" y2="205" stroke="#000"/>
<rect x="714.5" y="188.5" width="4" height="9" fill="#fff" stroke="#000"/>
<line x1="721.5" y1="174" x2="721.5" y2="190" stroke="#000"/>
<rect x="719" y="188" width="5" height="2" fill="#000"/>
<line x1="726.5" y1="187" x2="726.5" y2="215" stroke="#cc0028"/>
<rect x="724" y="187" width="5" height="28" fill="#cc0028"/>
<line x1="731.5" y1="206" x2="731.5" y2="222" stroke="#cc0028"/>
<rect x="729" y="214" width="5" height="8" fill="#cc0028"/>
<line x1="736.5" y1="221" x2="736.5" y2="262" stroke="#cc0028"/>
<rect x="734" y="221" width="5" height="41" fill="#cc0028"/>
<line x1="741.5" y1="240" x2="741.5" y2="272" stroke="#cc0028"/>
<rect x="739" y="261" width="5" height="11" fill="#cc0028"/>
<line x1="746.5" y1="251" x2="746.5" y2="272" stroke="#000"/>
<rect x="744.5" y="254.5" width="4" height="17" fill="#fff" stroke="#000"/>
<line x1="751.5" y1="240" x2="751.5" y2="259" stroke="#000"/>
<rect x="749.5" y="248.5" width="4" height="6" fill="#fff" stroke="#000"/>
<line x1="756.5" y1="237" x2="756.5" y2="259" stroke="#000"/>
<rect x="754.5" y="237.5" width="4" height="11" fill="#fff" stroke="#000"/>
<line x1="761.5" y1="236" x2="761.5" y2="269" stroke="#cc0028"/>
<rect x="759" y="236" width="5" height="33" fill="#cc0028"/>
<line x1="766.5" y1="265" x2="766.5" y2="277" stroke="#cc0028"/>
<rect x="764" y="268" width="5" height="5" fill="#cc0028"/>
<line x1="771.5" y1="271" x2="771.5" y2="296" stroke="#cc0028"/>
<rect x="769" y="274" width="5" height="22" fill="#cc0028"/>
<line x1="776.5" y1="283" x2="776.5" y2="313" stroke="#000"/>
<rect x="774.5" y="292.5" width="4" height="3" fill="#fff" stroke="#000"/>
<line x1="781.5" y1="275" x2="781.5" y2="293" stroke="#000"/>
<rect x="779.5" y="275.5" width="4" height="17" fill="#fff" stroke="#000"/>
<line x1="786.5" y1="275" x2="786.5" y2="304" stroke="#cc0028"/>
<rect x="784" y="275" width="5" height="21" fill="#cc0028"/>
<line x1="791.5" y1="294" x2="791.5" y2="320" stroke="#cc0028"/>
<rect x="789" y="294" width="5" height="26" fill="#cc0028"/>
<line x1="796.5" y1="317" x2="796.5" y2="349" stroke="#cc0028"/>
<rect x="794" y="319" width="5" height="27" fill="#cc0028"/>
<line x1="801.5" y1="334" x2="801.5" y2="352" stroke="#000"/>
<rect x="799.5" y="334.5" width="4" height="10" fill="#fff" stroke="#000"/>
<line x1="806.5" y1="334" x2="806.5" y2="362" stroke="#cc0028"/>
<rect x="804" y="334" width="5" height="28" fill="#cc0028"/>
<line x1="811.5" y1="345" x2="811.5" y2="364" stroke="#000"/>
<rect x="809.5" y="350.5" width="4" height="11" fill="#fff" stroke="#000"/>
<line x1="816.5" y1="350" x2="816.5" y2="375" stroke="#cc0028"/>
<rect x="814" y="350" width="5" height="22" fill="#cc0028"/>
<line x1="821.5" y1="371" x2="821.5" y2="401" stroke="#cc0028"/>
<rect x="819" y="371" width="5" height="15" fill="#cc0028"/>
<line x1="826.5" y1="385" x2="826.5" y2="422" stroke="#cc0028"/>
<rect x="824" y="385" width="5" height="33" fill="#cc0028"/>
<line x1="831.5" y1="380" x2="831.5" y2="417" stroke="#000"/>
<rect x="829.5" y="385.5" width="4" height="31" fill="#fff" stroke="#000"/>
<line x1="836.5" y1="347" x2="836.5" y2="388" stroke="#000"/>
<rect x="834.5" y="347.5" width="4" height="37" fill="#fff" stroke="#000"/>
<line x1="841.5" y1="327" x2="841.5" y2="352" stroke="#000"/>
<rect x="839.5" y="331.5" width="4" height="16" fill="#fff" stroke="#000"/>
<line x1="846.5" y1="329" x2="846.5" y2="342" stroke="#000"/>
<rect x="844.5" y="329.5" width="4" height="2" fill="#fff" stroke="#000"/>
<line x1="851.5" y1="328" x2="851.5" y2="340" stroke="#cc0028"/>
<rect x="849" y="328" width="5" height="7" fill="#cc0028"/>
<line x1="856.5" y1="324" x2="856.5" y2="345" stroke="#000"/>
<rect x="854.5" y="324.5" width="4" height="10" fill="#fff" stroke="#000"/>
<line x1="861.5" y1="316" x2="861.5" y2="332" stroke="#cc0028"/>
<rect x="859" y="324" width="5" height="2" fill="#cc0028"/>
<line x1="866.5" y1="310" x2="866.5" y2="325" stroke="#000"/>
<rect x="864.5" y="310.5" width="4" height="14" fill="#fff" stroke="#000"/>
<line x1="871.5" y1="299" x2="871.5" y2="312" stroke="#000"/>
<rect x="869.5" y="308.5" width="4" height="2" fill="#fff" stroke="#000"/>
<line x1="876.5" y1="296" x2="876.5" y2="312" stroke="#000"/>
<rect x="874.5" y="301.5" width="4" height="7" fill="#fff" stroke="#000"/>
<line x1="881.5" y1="232" x2="881.5" y2="274" stroke="#000"/>
<rect x="879" y="232" width="5" height="29" fill="#000"/>
<line x1="886.5" y1="255" x2="886.5" y2="281" stroke="#cc0028"/>
<rect x="884" y="259" width="5" height="15" fill="#cc0028"/>
<line x1="891.5" y1="249" x2="891.5" y2="276" stroke="#000"/>
<rect x="889.5" y="250.5" width="4" height="23" fill="#fff" stroke="#000"/>
<line x1="896.5" y1="234" x2="896.5" y2="265" stroke="#cc0028"/>
<rect x="894" y="249" width="5" height="11" fill="#cc0028"/>
<line x1="901.5" y1="248" x2="901.5" y2="271" stroke="#cc0028"/>
<rect x="899" y="258" width="5" height="4" fill="#cc0028"/>
<line x1="906.5" y1="246" x2="906.5" y2="273" stroke="#cc0028"/>
<rect x="904" y="261" width="5" height="9" fill="#cc0028"/>
<line x1="911.5" y1="241" x2="911.5" y2="270" stroke="#000"/>
<rect x="909.5" y="243.5" width="4" height="26" fill="#fff" stroke="#000"/>
<line x1="916.5" y1="243" x2="916.5" y2="268" stroke="#cc0028"/>
<rect x="914" y="243" width="5" height="24" fill="#cc0028"/>
<line x1="921.5" y1="264" x2="921.5" y2="282" stroke="#cc0028"/>
<rect x="919" y="264" width="5" height="10" fill="#cc0028"/>
<line x1="926.5" y1="266" x2="926.5" y2="291" stroke="#cc0028"/>
<rect x="924" y="273" width="5" height="3" fill="#cc0028"/>
<line x1="931.5" y1="254" x2="931.5" y2="274" stroke="#000"/>
<rect x="929.5" y="256.5" width="4" height="17" fill="#fff" stroke="#000"/>
<line x1="936.5" y1="254" x2="936.5" y2="276" stroke="#cc0028"/>
<rect x="934" y="256" width="5" height="20" fill="#cc0028"/>
</g>
<rect x="933.5" y="253.5" width="6" height="23" fill="none" stroke="#b8e8a0" stroke-width="1"/>
<g shape-rendering="crispEdges" clip-path="url(#cv)">
<rect x="14.5" y="583.5" width="5" height="14" fill="#d4747f" stroke="#c8283c"/>
<rect x="19.5" y="582.5" width="5" height="15" fill="#d4747f" stroke="#c8283c"/>
<rect x="24.5" y="580.5" width="5" height="17" fill="#878787" stroke="#3c3c3c"/>
<rect x="29.5" y="581.5" width="5" height="16" fill="#878787" stroke="#3c3c3c"/>
<rect x="34.5" y="580.5" width="5" height="17" fill="#d4747f" stroke="#c8283c"/>
<rect x="39.5" y="576.5" width="5" height="21" fill="#d4747f" stroke="#c8283c"/>
<rect x="44.5" y="578.5" width="5" height="19" fill="#d4747f" stroke="#c8283c"/>
<rect x="49.5" y="578.5" width="5" height="19" fill="#878787" stroke="#3c3c3c"/>
<rect x="54.5" y="578.5" width="5" height="19" fill="#878787" stroke="#3c3c3c"/>
<rect x="59.5" y="579.5" width="5" height="18" fill="#878787" stroke="#3c3c3c"/>
<rect x="64.5" y="578.5" width="5" height="19" fill="#878787" stroke="#3c3c3c"/>
<rect x="69.5" y="575.5" width="5" height="22" fill="#d4747f" stroke="#c8283c"/>
<rect x="74.5" y="576.5" width="5" height="21" fill="#d4747f" stroke="#c8283c"/>
<rect x="79.5" y="572.5" width="5" height="25" fill="#d4747f" stroke="#c8283c"/>
<rect x="84.5" y="564.5" width="5" height="33" fill="#d4747f" stroke="#c8283c"/>
<rect x="89.5" y="560.5" width="5" height="37" fill="#878787" stroke="#3c3c3c"/>
<rect x="94.5" y="467.5" width="5" height="130" fill="#d4747f" stroke="#c8283c"/>
<rect x="99.5" y="466.5" width="5" height="131" fill="#878787" stroke="#3c3c3c"/>
<rect x="104.5" y="562.5" width="5" height="35" fill="#878787" stroke="#3c3c3c"/>
<rect x="109.5" y="567.5" width="5" height="30" fill="#878787" stroke="#3c3c3c"/>
<rect x="114.5" y="566.5" width="5" height="31" fill="#878787" stroke="#3c3c3c"/>
<rect x="119.5" y="568.5" width="5" height="29" fill="#d4747f" stroke="#c8283c"/>
<rect x="124.5" y="573.5" width="5" height="24" fill="#d4747f" stroke="#c8283c"/>
<rect x="129.5" y="574.5" width="5" height="23" fill="#878787" stroke="#3c3c3c"/>
<rect x="134.5" y="574.5" width="5" height="23" fill="#878787" stroke="#3c3c3c"/>
<rect x="139.5" y="573.5" width="5" height="24" fill="#d4747f" stroke="#c8283c"/>
<rect x="144.5" y="575.5" width="5" height="22" fill="#878787" stroke="#3c3c3c"/>
<rect x="149.5" y="576.5" width="5" height="21" fill="#878787" stroke="#3c3c3c"/>
<rect x="154.5" y="576.5" width="5" height="21" fill="#878787" stroke="#3c3c3c"/>
<rect x="159.5" y="578.5" width="5" height="19" fill="#d4747f" stroke="#c8283c"/>
<rect x="164.5" y="580.5" width="5" height="17" fill="#d4747f" stroke="#c8283c"/>
<rect x="169.5" y="582.5" width="5" height="15" fill="#d4747f" stroke="#c8283c"/>
<rect x="174.5" y="583.5" width="5" height="14" fill="#878787" stroke="#3c3c3c"/>
<rect x="179.5" y="580.5" width="5" height="17" fill="#878787" stroke="#3c3c3c"/>
<rect x="184.5" y="581.5" width="5" height="16" fill="#878787" stroke="#3c3c3c"/>
<rect x="189.5" y="581.5" width="5" height="16" fill="#878787" stroke="#3c3c3c"/>
<rect x="194.5" y="582.5" width="5" height="15" fill="#878787" stroke="#3c3c3c"/>
<rect x="199.5" y="579.5" width="5" height="18" fill="#878787" stroke="#3c3c3c"/>
<rect x="204.5" y="581.5" width="5" height="16" fill="#878787" stroke="#3c3c3c"/>
<rect x="209.5" y="581.5" width="5" height="16" fill="#878787" stroke="#3c3c3c"/>
<rect x="214.5" y="584.5" width="5" height="13" fill="#d4747f" stroke="#c8283c"/>
<rect x="219.5" y="584.5" width="5" height="13" fill="#878787" stroke="#3c3c3c"/>
<rect x="224.5" y="584.5" width="5" height="13" fill="#d4747f" stroke="#c8283c"/>
<rect x="229.5" y="584.5" width="5" height="13" fill="#d4747f" stroke="#c8283c"/>
<rect x="234.5" y="580.5" width="5" height="17" fill="#878787" stroke="#3c3c3c"/>
<rect x="239.5" y="582.5" width="5" height="15" fill="#878787" stroke="#3c3c3c"/>
<rect x="244.5" y="582.5" width="5" height="15" fill="#878787" stroke="#3c3c3c"/>
<rect x="249.5" y="582.5" width="5" height="15" fill="#d4747f" stroke="#c8283c"/>
<rect x="254.5" y="584.5" width="5" height="13" fill="#878787" stroke="#3c3c3c"/>
<rect x="259.5" y="582.5" width="5" height="15" fill="#d4747f" stroke="#c8283c"/>
<rect x="264.5" y="579.5" width="5" height="18" fill="#d4747f" stroke="#c8283c"/>
<rect x="269.5" y="579.5" width="5" height="18" fill="#d4747f" stroke="#c8283c"/>
<rect x="274.5" y="577.5" width="5" height="20" fill="#d4747f" stroke="#c8283c"/>
<rect x="279.5" y="571.5" width="5" height="26" fill="#d4747f" stroke="#c8283c"/>
<rect x="284.5" y="564.5" width="5" height="33" fill="#d4747f" stroke="#c8283c"/>
<rect x="289.5" y="484.5" width="5" height="113" fill="#878787" stroke="#3c3c3c"/>
<rect x="294.5" y="526.5" width="5" height="71" fill="#d4747f" stroke="#c8283c"/>
<rect x="299.5" y="557.5" width="5" height="40" fill="#878787" stroke="#3c3c3c"/>
<rect x="304.5" y="563.5" width="5" height="34" fill="#d4747f" stroke="#c8283c"/>
<rect x="309.5" y="564.5" width="5" height="33" fill="#878787" stroke="#3c3c3c"/>
<rect x="314.5" y="569.5" width="5" height="28" fill="#878787" stroke="#3c3c3c"/>
<rect x="319.5" y="570.5" width="5" height="27" fill="#d4747f" stroke="#c8283c"/>
<rect x="324.5" y="570.5" width="5" height="27" fill="#d4747f" stroke="#c8283c"/>
<rect x="329.5" y="568.5" width="5" height="29" fill="#d4747f" stroke="#c8283c"/>
<rect x="334.5" y="576.5" width="5" height="21" fill="#878787" stroke="#3c3c3c"/>
<rect x="339.5" y="567.5" width="5" height="30" fill="#d4747f" stroke="#c8283c"/>
<rect x="344.5" y="572.5" width="5" height="25" fill="#878787" stroke="#3c3c3c"/>
<rect x="349.5" y="576.5" width="5" height="21" fill="#d4747f" stroke="#c8283c"/>
<rect x="354.5" y="577.5" width="5" height="20" fill="#878787" stroke="#3c3c3c"/>
<rect x="359.5" y="578.5" width="5" height="19" fill="#878787" stroke="#3c3c3c"/>
<rect x="364.5" y="578.5" width="5" height="19" fill="#878787" stroke="#3c3c3c"/>
<rect x="369.5" y="579.5" width="5" height="18" fill="#d4747f" stroke="#c8283c"/>
<rect x="374.5" y="581.5" width="5" height="16" fill="#d4747f" stroke="#c8283c"/>
<rect x="379.5" y="582.5" width="5" height="15" fill="#878787" stroke="#3c3c3c"/>
<rect x="384.5" y="583.5" width="5" height="14" fill="#d4747f" stroke="#c8283c"/>
<rect x="389.5" y="585.5" width="5" height="12" fill="#878787" stroke="#3c3c3c"/>
<rect x="394.5" y="583.5" width="5" height="14" fill="#878787" stroke="#3c3c3c"/>
<rect x="399.5" y="584.5" width="5" height="13" fill="#878787" stroke="#3c3c3c"/>
<rect x="404.5" y="582.5" width="5" height="15" fill="#d4747f" stroke="#c8283c"/>
<rect x="409.5" y="584.5" width="5" height="13" fill="#878787" stroke="#3c3c3c"/>
<rect x="414.5" y="581.5" width="5" height="16" fill="#878787" stroke="#3c3c3c"/>
<rect x="419.5" y="582.5" width="5" height="15" fill="#878787" stroke="#3c3c3c"/>
<rect x="424.5" y="580.5" width="5" height="17" fill="#878787" stroke="#3c3c3c"/>
<rect x="429.5" y="580.5" width="5" height="17" fill="#d4747f" stroke="#c8283c"/>
<rect x="434.5" y="581.5" width="5" height="16" fill="#878787" stroke="#3c3c3c"/>
<rect x="439.5" y="581.5" width="5" height="16" fill="#d4747f" stroke="#c8283c"/>
<rect x="444.5" y="584.5" width="5" height="13" fill="#d4747f" stroke="#c8283c"/>
<rect x="449.5" y="582.5" width="5" height="15" fill="#d4747f" stroke="#c8283c"/>
<rect x="454.5" y="580.5" width="5" height="17" fill="#d4747f" stroke="#c8283c"/>
<rect x="459.5" y="578.5" width="5" height="19" fill="#878787" stroke="#3c3c3c"/>
<rect x="464.5" y="576.5" width="5" height="21" fill="#878787" stroke="#3c3c3c"/>
<rect x="469.5" y="576.5" width="5" height="21" fill="#d4747f" stroke="#c8283c"/>
<rect x="474.5" y="571.5" width="5" height="26" fill="#d4747f" stroke="#c8283c"/>
<rect x="479.5" y="565.5" width="5" height="32" fill="#878787" stroke="#3c3c3c"/>
<rect x="484.5" y="472.5" width="5" height="125" fill="#878787" stroke="#3c3c3c"/>
<rect x="489.5" y="515.5" width="5" height="82" fill="#d4747f" stroke="#c8283c"/>
<rect x="494.5" y="548.5" width="5" height="49" fill="#878787" stroke="#3c3c3c"/>
<rect x="499.5" y="554.5" width="5" height="43" fill="#878787" stroke="#3c3c3c"/>
<rect x="504.5" y="556.5" width="5" height="41" fill="#878787" stroke="#3c3c3c"/>
<rect x="509.5" y="566.5" width="5" height="31" fill="#878787" stroke="#3c3c3c"/>
<rect x="514.5" y="567.5" width="5" height="30" fill="#d4747f" stroke="#c8283c"/>
<rect x="519.5" y="571.5" width="5" height="26" fill="#d4747f" stroke="#c8283c"/>
<rect x="524.5" y="570.5" width="5" height="27" fill="#878787" stroke="#3c3c3c"/>
<rect x="529.5" y="574.5" width="5" height="23" fill="#878787" stroke="#3c3c3c"/>
<rect x="534.5" y="572.5" width="5" height="25" fill="#d4747f" stroke="#c8283c"/>
<rect x="539.5" y="570.5" width="5" height="27" fill="#878787" stroke="#3c3c3c"/>
<rect x="544.5" y="573.5" width="5" height="24" fill="#d4747f" stroke="#c8283c"/>
<rect x="549.5" y="577.5" width="5" height="20" fill="#878787" stroke="#3c3c3c"/>
<rect x="554.5" y="579.5" width="5" height="18" fill="#d4747f" stroke="#c8283c"/>
<rect x="559.5" y="581.5" width="5" height="16" fill="#d4747f" stroke="#c8283c"/>
<rect x="564.5" y="579.5" width="5" height="18" fill="#d4747f" stroke="#c8283c"/>
<rect x="569.5" y="581.5" width="5" height="16" fill="#878787" stroke="#3c3c3c"/>
<rect x="574.5" y="580.5" width="5" height="17" fill="#d4747f" stroke="#c8283c"/>
<rect x="579.5" y="579.5" width="5" height="18" fill="#878787" stroke="#3c3c3c"/>
<rect x="584.5" y="579.5" width="5" height="18" fill="#878787" stroke="#3c3c3c"/>
<rect x="589.5" y="579.5" width="5" height="18" fill="#878787" stroke="#3c3c3c"/>
<rect x="594.5" y="582.5" width="5" height="15" fill="#d4747f" stroke="#c8283c"/>
<rect x="599.5" y="584.5" width="5" height="13" fill="#d4747f" stroke="#c8283c"/>
<rect x="604.5" y="581.5" width="5" height="16" fill="#878787" stroke="#3c3c3c"/>
<rect x="609.5" y="578.5" width="5" height="19" fill="#878787" stroke="#3c3c3c"/>
<rect x="614.5" y="578.5" width="5" height="19" fill="#878787" stroke="#3c3c3c"/>
<rect x="619.5" y="579.5" width="5" height="18" fill="#878787" stroke="#3c3c3c"/>
<rect x="624.5" y="576.5" width="5" height="21" fill="#d4747f" stroke="#c8283c"/>
<rect x="629.5" y="579.5" width="5" height="18" fill="#d4747f" stroke="#c8283c"/>
<rect x="634.5" y="581.5" width="5" height="16" fill="#d4747f" stroke="#c8283c"/>
<rect x="639.5" y="580.5" width="5" height="17" fill="#d4747f" stroke="#c8283c"/>
<rect x="644.5" y="580.5" width="5" height="17" fill="#d4747f" stroke="#c8283c"/>
<rect x="649.5" y="578.5" width="5" height="19" fill="#d4747f" stroke="#c8283c"/>
<rect x="654.5" y="576.5" width="5" height="21" fill="#878787" stroke="#3c3c3c"/>
<rect x="659.5" y="576.5" width="5" height="21" fill="#878787" stroke="#3c3c3c"/>
<rect x="664.5" y="576.5" width="5" height="21" fill="#878787" stroke="#3c3c3c"/>
<rect x="669.5" y="569.5" width="5" height="28" fill="#878787" stroke="#3c3c3c"/>
<rect x="674.5" y="564.5" width="5" height="33" fill="#878787" stroke="#3c3c3c"/>
<rect x="679.5" y="478.5" width="5" height="119" fill="#d4747f" stroke="#c8283c"/>
<rect x="684.5" y="518.5" width="5" height="79" fill="#d4747f" stroke="#c8283c"/>
<rect x="689.5" y="559.5" width="5" height="38" fill="#878787" stroke="#3c3c3c"/>
<rect x="694.5" y="561.5" width="5" height="36" fill="#d4747f" stroke="#c8283c"/>
<rect x="699.5" y="550.5" width="5" height="47" fill="#d4747f" stroke="#c8283c"/>
<rect x="704.5" y="565.5" width="5" height="32" fill="#d4747f" stroke="#c8283c"/>
<rect x="709.5" y="567.5" width="5" height="30" fill="#878787" stroke="#3c3c3c"/>
<rect x="714.5" y="570.5" width="5" height="27" fill="#878787" stroke="#3c3c3c"/>
<rect x="719.5" y="572.5" width="5" height="25" fill="#878787" stroke="#3c3c3c"/>
<rect x="724.5" y="570.5" width="5" height="27" fill="#d4747f" stroke="#c8283c"/>
<rect x="729.5" y="574.5" width="5" height="23" fill="#d4747f" stroke="#c8283c"/>
<rect x="734.5" y="569.5" width="5" height="28" fill="#d4747f" stroke="#c8283c"/>
<rect x="739.5" y="574.5" width="5" height="23" fill="#d4747f" stroke="#c8283c"/>
<rect x="744.5" y="577.5" width="5" height="20" fill="#878787" stroke="#3c3c3c"/>
<rect x="749.5" y="578.5" width="5" height="19" fill="#878787" stroke="#3c3c3c"/>
<rect x="754.5" y="574.5" width="5" height="23" fill="#878787" stroke="#3c3c3c"/>
<rect x="759.5" y="576.5" width="5" height="21" fill="#d4747f" stroke="#c8283c"/>
<rect x="764.5" y="577.5" width="5" height="20" fill="#d4747f" stroke="#c8283c"/>
<rect x="769.5" y="577.5" width="5" height="20" fill="#d4747f" stroke="#c8283c"/>
<rect x="774.5" y="578.5" width="5" height="19" fill="#878787" stroke="#3c3c3c"/>
<rect x="779.5" y="584.5" width="5" height="13" fill="#878787" stroke="#3c3c3c"/>
<rect x="784.5" y="581.5" width="5" height="16" fill="#d4747f" stroke="#c8283c"/>
<rect x="789.5" y="576.5" width="5" height="21" fill="#d4747f" stroke="#c8283c"/>
<rect x="794.5" y="573.5" width="5" height="24" fill="#d4747f" stroke="#c8283c"/>
<rect x="799.5" y="578.5" width="5" height="19" fill="#878787" stroke="#3c3c3c"/>
<rect x="804.5" y="577.5" width="5" height="20" fill="#d4747f" stroke="#c8283c"/>
<rect x="809.5" y="578.5" width="5" height="19" fill="#878787" stroke="#3c3c3c"/>
<rect x="814.5" y="577.5" width="5" height="20" fill="#d4747f" stroke="#c8283c"/>
<rect x="819.5" y="574.5" width="5" height="23" fill="#d4747f" stroke="#c8283c"/>
<rect x="824.5" y="577.5" width="5" height="20" fill="#d4747f" stroke="#c8283c"/>
<rect x="829.5" y="574.5" width="5" height="23" fill="#878787" stroke="#3c3c3c"/>
<rect x="834.5" y="573.5" width="5" height="24" fill="#878787" stroke="#3c3c3c"/>
<rect x="839.5" y="576.5" width="5" height="21" fill="#878787" stroke="#3c3c3c"/>
<rect x="844.5" y="576.5" width="5" height="21" fill="#878787" stroke="#3c3c3c"/>
<rect x="849.5" y="578.5" width="5" height="19" fill="#d4747f" stroke="#c8283c"/>
<rect x="854.5" y="575.5" width="5" height="22" fill="#878787" stroke="#3c3c3c"/>
<rect x="859.5" y="569.5" width="5" height="28" fill="#d4747f" stroke="#c8283c"/>
<rect x="864.5" y="564.5" width="5" height="33" fill="#878787" stroke="#3c3c3c"/>
<rect x="869.5" y="560.5" width="5" height="37" fill="#878787" stroke="#3c3c3c"/>
<rect x="874.5" y="473.5" width="5" height="124" fill="#878787" stroke="#3c3c3c"/>
<rect x="879.5" y="510.5" width="5" height="87" fill="#878787" stroke="#3c3c3c"/>
<rect x="884.5" y="550.5" width="5" height="47" fill="#d4747f" stroke="#c8283c"/>
<rect x="889.5" y="560.5" width="5" height="37" fill="#878787" stroke="#3c3c3c"/>
<rect x="894.5" y="559.5" width="5" height="38" fill="#d4747f" stroke="#c8283c"/>
<rect x="899.5" y="564.5" width="5" height="33" fill="#d4747f" stroke="#c8283c"/>
<rect x="904.5" y="564.5" width="5" height="33" fill="#d4747f" stroke="#c8283c"/>
<rect x="909.5" y="569.5" width="5" height="28" fill="#878787" stroke="#3c3c3c"/>
<rect x="914.5" y="571.5" width="5" height="26" fill="#d4747f" stroke="#c8283c"/>
<rect x="919.5" y="575.5" width="5" height="22" fill="#d4747f" stroke="#c8283c"/>
<rect x="924.5" y="572.5" width="5" height="25" fill="#d4747f" stroke="#c8283c"/>
<rect x="929.5" y="575.5" width="5" height="22" fill="#878787" stroke="#3c3c3c"/>
<rect x="934.5" y="586.5" width="5" height="11" fill="#d4747f" stroke="#c8283c"/>
</g>
<rect x="17" y="454" width="126" height="12" fill="#fff"/>
<g shape-rendering="crispEdges" clip-path="url(#ck)">
<rect x="14.5" y="686.5" width="5" height="9" fill="#59a9d3" stroke="#1f6d94"/>
<rect x="19.5" y="686.5" width="5" height="12" fill="#59a9d3" stroke="#1f6d94"/>
<rect x="24.5" y="686.5" width="5" height="13" fill="#59a9d3" stroke="#1f6d94"/>
<rect x="29.5" y="686.5" width="5" height="11" fill="#59a9d3" stroke="#1f6d94"/>
<rect x="34.5" y="686.5" width="5" height="12" fill="#59a9d3" stroke="#1f6d94"/>
<rect x="39.5" y="686.5" width="5" height="27" fill="#59a9d3" stroke="#1f6d94"/>
<rect x="44.5" y="686.5" width="5" height="39" fill="#59a9d3" stroke="#1f6d94"/>
<rect x="49.5" y="686.5" width="5" height="44" fill="#59a9d3" stroke="#1f6d94"/>
<rect x="54.5" y="686.5" width="5" height="44" fill="#59a9d3" stroke="#1f6d94"/>
<rect x="59.5" y="686.5" width="5" height="41" fill="#59a9d3" stroke="#1f6d94"/>
<rect x="64.5" y="686.5" width="5" height="34" fill="#59a9d3" stroke="#1f6d94"/>
<rect x="69.5" y="686.5" width="5" height="29" fill="#59a9d3" stroke="#1f6d94"/>
<rect x="74.5" y="686.5" width="5" height="26" fill="#59a9d3" stroke="#1f6d94"/>
<rect x="79.5" y="686.5" width="5" height="27" fill="#59a9d3" stroke="#1f6d94"/>
<rect x="84.5" y="686.5" width="5" height="29" fill="#59a9d3" stroke="#1f6d94"/>
<rect x="89.5" y="686.5" width="5" height="28" fill="#59a9d3" stroke="#1f6d94"/>
<rect x="94.5" y="686.5" width="5" height="27" fill="#59a9d3" stroke="#1f6d94"/>
<rect x="99.5" y="686.5" width="5" height="17" fill="#59a9d3" stroke="#1f6d94"/>
<rect x="104.5" y="686.5" width="5" height="9" fill="#59a9d3" stroke="#1f6d94"/>
<rect x="109.5" y="686.5" width="5" height="2" fill="#59a9d3" stroke="#1f6d94"/>
<rect x="114.5" y="677.5" width="5" height="9" fill="#59a9d3" stroke="#1f6d94"/>
<rect x="119.5" y="675.5" width="5" height="11" fill="#59a9d3" stroke="#1f6d94"/>
<rect x="124.5" y="674.5" width="5" height="12" fill="#59a9d3" stroke="#1f6d94"/>
<rect x="129.5" y="673.5" width="5" height="13" fill="#59a9d3" stroke="#1f6d94"/>
<rect x="134.5" y="671.5" width="5" height="15" fill="#59a9d3" stroke="#1f6d94"/>
<rect x="139.5" y="674.5" width="5" height="12" fill="#59a9d3" stroke="#1f6d94"/>
<rect x="144.5" y="672.5" width="5" height="14" fill="#59a9d3" stroke="#1f6d94"/>
<rect x="149.5" y="669.5" width="5" height="17" fill="#59a9d3" stroke="#1f6d94"/>
<rect x="154.5" y="666.5" width="5" height="20" fill="#59a9d3" stroke="#1f6d94"/>
<rect x="159.5" y="666.5" width="5" height="20" fill="#59a9d3" stroke="#1f6d94"/>
<rect x="164.5" y="670.5" width="5" height="16" fill="#59a9d3" stroke="#1f6d94"/>
<rect x="169.5" y="674.5" width="5" height="12" fill="#59a9d3" stroke="#1f6d94"/>
<rect x="174.5" y="677.5" width="5" height="9" fill="#59a9d3" stroke="#1f6d94"/>
<rect x="179.5" y="677.5" width="5" height="9" fill="#59a9d3" stroke="#1f6d94"/>
<rect x="184.5" y="678.5" width="5" height="8" fill="#59a9d3" stroke="#1f6d94"/>
<rect x="189.5" y="677.5" width="5" height="9" fill="#59a9d3" stroke="#1f6d94"/>
<rect x="194.5" y="674.5" width="5" height="12" fill="#59a9d3" stroke="#1f6d94"/>
<rect x="199.5" y="673.5" width="5" height="13" fill="#59a9d3" stroke="#1f6d94"/>
<rect x="204.5" y="671.5" width="5" height="15" fill="#59a9d3" stroke="#1f6d94"/>
<rect x="209.5" y="671.5" width="5" height="15" fill="#59a9d3" stroke="#1f6d94"/>
<rect x="214.5" y="676.5" width="5" height="10" fill="#59a9d3" stroke="#1f6d94"/>
<rect x="219.5" y="677.5" width="5" height="9" fill="#59a9d3" stroke="#1f6d94"/>
<rect x="224.5" y="679.5" width="5" height="7" fill="#59a9d3" stroke="#1f6d94"/>
<rect x="229.5" y="684.5" width="5" height="2" fill="#59a9d3" stroke="#1f6d94"/>
<rect x="234.5" y="686.5" width="5" height="1" fill="#59a9d3" stroke="#1f6d94"/>
<rect x="239.5" y="683.5" width="5" height="3" fill="#59a9d3" stroke="#1f6d94"/>
<rect x="244.5" y="682.5" width="5" height="4" fill="#59a9d3" stroke="#1f6d94"/>
<rect x="249.5" y="685.5" width="5" height="1" fill="#59a9d3" stroke="#1f6d94"/>
<rect x="254.5" y="686.5" width="5" height="1" fill="#59a9d3" stroke="#1f6d94"/>
<rect x="259.5" y="686.5" width="5" height="3" fill="#59a9d3" stroke="#1f6d94"/>
<rect x="264.5" y="686.5" width="5" height="7" fill="#59a9d3" stroke="#1f6d94"/>
<rect x="269.5" y="686.5" width="5" height="11" fill="#59a9d3" stroke="#1f6d94"/>
<rect x="274.5" y="686.5" width="5" height="14" fill="#59a9d3" stroke="#1f6d94"/>
<rect x="279.5" y="686.5" width="5" height="16" fill="#59a9d3" stroke="#1f6d94"/>
<rect x="284.5" y="686.5" width="5" height="19" fill="#59a9d3" stroke="#1f6d94"/>
<rect x="289.5" y="686.5" width="5" height="16" fill="#59a9d3" stroke="#1f6d94"/>
<rect x="294.5" y="686.5" width="5" height="20" fill="#59a9d3" stroke="#1f6d94"/>
<rect x="299.5" y="686.5" width="5" height="17" fill="#59a9d3" stroke="#1f6d94"/>
<rect x="304.5" y="686.5" width="5" height="19" fill="#59a9d3" stroke="#1f6d94"/>
<rect x="309.5" y="686.5" width="5" height="15" fill="#59a9d3" stroke="#1f6d94"/>
<rect x="314.5" y="686.5" width="5" height="9" fill="#59a9d3" stroke="#1f6d94"/>
<rect x="319.5" y="686.5" width="5" height="13" fill="#59a9d3" stroke="#1f6d94"/>
<rect x="324.5" y="686.5" width="5" height="21" fill="#59a9d3" stroke="#1f6d94"/>
<rect x="329.5" y="686.5" width="5" height="32" fill="#59a9d3" stroke="#1f6d94"/>
<rect x="334.5" y="686.5" width="5" height="37" fill="#59a9d3" stroke="#1f6d94"/>
<rect x="339.5" y="686.5" width="5" height="55" fill="#59a9d3" stroke="#1f6d94"/>
<rect x="344.5" y="686.5" width="5" height="60" fill="#59a9d3" stroke="#1f6d94"/>
<rect x="349.5" y="686.5" width="5" height="64" fill="#59a9d3" stroke="#1f6d94"/>
<rect x="354.5" y="686.5" width="5" height="57" fill="#59a9d3" stroke="#1f6d94"/>
<rect x="359.5" y="686.5" width="5" height="43" fill="#59a9d3" stroke="#1f6d94"/>
<rect x="364.5" y="686.5" width="5" height="27" fill="#59a9d3" stroke="#1f6d94"/>
<rect x="369.5" y="686.5" width="5" height="16" fill="#59a9d3" stroke="#1f6d94"/>
<rect x="374.5" y="686.5" width="5" height="9" fill="#59a9d3" stroke="#1f6d94"/>
<rect x="379.5" y="686.5" width="5" height="3" fill="#59a9d3" stroke="#1f6d94"/>
<rect x="384.5" y="685.5" width="5" height="1" fill="#59a9d3" stroke="#1f6d94"/>
<rect x="389.5" y="680.5" width="5" height="6" fill="#59a9d3" stroke="#1f6d94"/>
<rect x="394.5" y="671.5" width="5" height="15" fill="#59a9d3" stroke="#1f6d94"/>
<rect x="399.5" y="663.5" width="5" height="23" fill="#59a9d3" stroke="#1f6d94"/>
<rect x="404.5" y="661.5" width="5" height="25" fill="#59a9d3" stroke="#1f6d94"/>
<rect x="409.5" y="659.5" width="5" height="27" fill="#59a9d3" stroke="#1f6d94"/>
<rect x="414.5" y="657.5" width="5" height="29" fill="#59a9d3" stroke="#1f6d94"/>
<rect x="419.5" y="656.5" width="5" height="30" fill="#59a9d3" stroke="#1f6d94"/>
<rect x="424.5" y="655.5" width="5" height="31" fill="#59a9d3" stroke="#1f6d94"/>
<rect x="429.5" y="659.5" width="5" height="27" fill="#59a9d3" stroke="#1f6d94"/>
<rect x="434.5" y="662.5" width="5" height="24" fill="#59a9d3" stroke="#1f6d94"/>
<rect x="439.5" y="669.5" width="5" height="17" fill="#59a9d3" stroke="#1f6d94"/>
<rect x="444.5" y="674.5" width="5" height="12" fill="#59a9d3" stroke="#1f6d94"/>
<rect x="449.5" y="678.5" width="5" height="8" fill="#59a9d3" stroke="#1f6d94"/>
<rect x="454.5" y="683.5" width="5" height="3" fill="#59a9d3" stroke="#1f6d94"/>
<rect x="459.5" y="684.5" width="5" height="2" fill="#59a9d3" stroke="#1f6d94"/>
<rect x="464.5" y="678.5" width="5" height="8" fill="#59a9d3" stroke="#1f6d94"/>
<rect x="469.5" y="678.5" width="5" height="8" fill="#59a9d3" stroke="#1f6d94"/>
<rect x="474.5" y="683.5" width="5" height="3" fill="#59a9d3" stroke="#1f6d94"/>
<rect x="479.5" y="681.5" width="5" height="5" fill="#59a9d3" stroke="#1f6d94"/>
<rect x="484.5" y="673.5" width="5" height="13" fill="#59a9d3" stroke="#1f6d94"/>
<rect x="489.5" y="686.5" width="5" height="10" fill="#59a9d3" stroke="#1f6d94"/>
<rect x="494.5" y="686.5" width="5" height="20" fill="#59a9d3" stroke="#1f6d94"/>
<rect x="499.5" y="686.5" width="5" height="24" fill="#59a9d3" stroke="#1f6d94"/>
<rect x="504.5" y="686.5" width="5" height="22" fill="#59a9d3" stroke="#1f6d94"/>
<rect x="509.5" y="686.5" width="5" height="20" fill="#59a9d3" stroke="#1f6d94"/>
<rect x="514.5" y="686.5" width="5" height="19" fill="#59a9d3" stroke="#1f6d94"/>
<rect x="519.5" y="686.5" width="5" height="18" fill="#59a9d3" stroke="#1f6d94"/>
<rect x="524.5" y="686.5" width="5" height="16" fill="#59a9d3" stroke="#1f6d94"/>
<rect x="529.5" y="686.5" width="5" height="7" fill="#59a9d3" stroke="#1f6d94"/>
<rect x="534.5" y="686.5" width="5" height="2" fill="#59a9d3" stroke="#1f6d94"/>
<rect x="539.5" y="681.5" width="5" height="5" fill="#59a9d3" stroke="#1f6d94"/>
<rect x="544.5" y="679.5" width="5" height="7" fill="#59a9d3" stroke="#1f6d94"/>
<rect x="549.5" y="675.5" width="5" height="11" fill="#59a9d3" stroke="#1f6d94"/>
<rect x="554.5" y="675.5" width="5" height="11" fill="#59a9d3" stroke="#1f6d94"/>
<rect x="559.5" y="673.5" width="5" height="13" fill="#59a9d3" stroke="#1f6d94"/>
<rect x="564.5" y="678.5" width="5" height="8" fill="#59a9d3" stroke="#1f6d94"/>
<rect x="569.5" y="678.5" width="5" height="8" fill="#59a9d3" stroke="#1f6d94"/>
<rect x="574.5" y="681.5" width="5" height="5" fill="#59a9d3" stroke="#1f6d94"/>
<rect x="579.5" y="681.5" width="5" height="5" fill="#59a9d3" stroke="#1f6d94"/>
<rect x="584.5" y="679.5" width="5" height="7" fill="#59a9d3" stroke="#1f6d94"/>
<rect x="589.5" y="673.5" width="5" height="13" fill="#59a9d3" stroke="#1f6d94"/>
<rect x="594.5" y="671.5" width="5" height="15" fill="#59a9d3" stroke="#1f6d94"/>
<rect x="599.5" y="671.5" width="5" height="15" fill="#59a9d3" stroke="#1f6d94"/>
<rect x="604.5" y="669.5" width="5" height="17" fill="#59a9d3" stroke="#1f6d94"/>
<rect x="609.5" y="663.5" width="5" height="23" fill="#59a9d3" stroke="#1f6d94"/>
<rect x="614.5" y="658.5" width="5" height="28" fill="#59a9d3" stroke="#1f6d94"/>
<rect x="619.5" y="652.5" width="5" height="34" fill="#59a9d3" stroke="#1f6d94"/>
<rect x="624.5" y="652.5" width="5" height="34" fill="#59a9d3" stroke="#1f6d94"/>
<rect x="629.5" y="655.5" width="5" height="31" fill="#59a9d3" stroke="#1f6d94"/>
<rect x="634.5" y="659.5" width="5" height="27" fill="#59a9d3" stroke="#1f6d94"/>
<rect x="639.5" y="666.5" width="5" height="20" fill="#59a9d3" stroke="#1f6d94"/>
<rect x="644.5" y="671.5" width="5" height="15" fill="#59a9d3" stroke="#1f6d94"/>
<rect x="649.5" y="680.5" width="5" height="6" fill="#59a9d3" stroke="#1f6d94"/>
<rect x="654.5" y="684.5" width="5" height="2" fill="#59a9d3" stroke="#1f6d94"/>
<rect x="659.5" y="684.5" width="5" height="2" fill="#59a9d3" stroke="#1f6d94"/>
<rect x="664.5" y="684.5" width="5" height="2" fill="#59a9d3" stroke="#1f6d94"/>
<rect x="669.5" y="685.5" width="5" height="1" fill="#59a9d3" stroke="#1f6d94"/>
<rect x="674.5" y="683.5" width="5" height="3" fill="#59a9d3" stroke="#1f6d94"/>
<rect x="679.5" y="686.5" width="5" height="2" fill="#59a9d3" stroke="#1f6d94"/>
<rect x="684.5" y="686.5" width="5" height="25" fill="#59a9d3" stroke="#1f6d94"/>
<rect x="689.5" y="686.5" width="5" height="37" fill="#59a9d3" stroke="#1f6d94"/>
<rect x="694.5" y="686.5" width="5" height="45" fill="#59a9d3" stroke="#1f6d94"/>
<rect x="699.5" y="686.5" width="5" height="54" fill="#59a9d3" stroke="#1f6d94"/>
<rect x="704.5" y="686.5" width="5" height="61" fill="#59a9d3" stroke="#1f6d94"/>
<rect x="709.5" y="686.5" width="5" height="55" fill="#59a9d3" stroke="#1f6d94"/>
<rect x="714.5" y="686.5" width="5" height="46" fill="#59a9d3" stroke="#1f6d94"/>
<rect x="719.5" y="686.5" width="5" height="37" fill="#59a9d3" stroke="#1f6d94"/>
<rect x="724.5" y="686.5" width="5" height="37" fill="#59a9d3" stroke="#1f6d94"/>
<rect x="729.5" y="686.5" width="5" height="37" fill="#59a9d3" stroke="#1f6d94"/>
<rect x="734.5" y="686.5" width="5" height="46" fill="#59a9d3" stroke="#1f6d94"/>
<rect x="739.5" y="686.5" width="5" height="51" fill="#59a9d3" stroke="#1f6d94"/>
<rect x="744.5" y="686.5" width="5" height="46" fill="#59a9d3" stroke="#1f6d94"/>
<rect x="749.5" y="686.5" width="5" height="38" fill="#59a9d3" stroke="#1f6d94"/>
<rect x="754.5" y="686.5" width="5" height="27" fill="#59a9d3" stroke="#1f6d94"/>
<rect x="759.5" y="686.5" width="5" height="26" fill="#59a9d3" stroke="#1f6d94"/>
<rect x="764.5" y="686.5" width="5" height="25" fill="#59a9d3" stroke="#1f6d94"/>
<rect x="769.5" y="686.5" width="5" height="28" fill="#59a9d3" stroke="#1f6d94"/>
<rect x="774.5" y="686.5" width="5" height="27" fill="#59a9d3" stroke="#1f6d94"/>
<rect x="779.5" y="686.5" width="5" height="19" fill="#59a9d3" stroke="#1f6d94"/>
<rect x="784.5" y="686.5" width="5" height="17" fill="#59a9d3" stroke="#1f6d94"/>
<rect x="789.5" y="686.5" width="5" height="21" fill="#59a9d3" stroke="#1f6d94"/>
<rect x="794.5" y="686.5" width="5" height="28" fill="#59a9d3" stroke="#1f6d94"/>
<rect x="799.5" y="686.5" width="5" height="27" fill="#59a9d3" stroke="#1f6d94"/>
<rect x="804.5" y="686.5" width="5" height="31" fill="#59a9d3" stroke="#1f6d94"/>
<rect x="809.5" y="686.5" width="5" height="27" fill="#59a9d3" stroke="#1f6d94"/>
<rect x="814.5" y="686.5" width="5" height="28" fill="#59a9d3" stroke="#1f6d94"/>
<rect x="819.5" y="686.5" width="5" height="29" fill="#59a9d3" stroke="#1f6d94"/>
<rect x="824.5" y="686.5" width="5" height="36" fill="#59a9d3" stroke="#1f6d94"/>
<rect x="829.5" y="686.5" width="5" height="28" fill="#59a9d3" stroke="#1f6d94"/>
<rect x="834.5" y="686.5" width="5" height="8" fill="#59a9d3" stroke="#1f6d94"/>
<rect x="839.5" y="675.5" width="5" height="11" fill="#59a9d3" stroke="#1f6d94"/>
<rect x="844.5" y="661.5" width="5" height="25" fill="#59a9d3" stroke="#1f6d94"/>
<rect x="849.5" y="654.5" width="5" height="32" fill="#59a9d3" stroke="#1f6d94"/>
<rect x="854.5" y="646.5" width="5" height="40" fill="#59a9d3" stroke="#1f6d94"/>
<rect x="859.5" y="642.5" width="5" height="44" fill="#59a9d3" stroke="#1f6d94"/>
<rect x="864.5" y="636.5" width="5" height="50" fill="#59a9d3" stroke="#1f6d94"/>
<rect x="869.5" y="633.5" width="5" height="53" fill="#59a9d3" stroke="#1f6d94"/>
<rect x="874.5" y="631.5" width="5" height="55" fill="#59a9d3" stroke="#1f6d94"/>
<rect x="879.5" y="619.5" width="5" height="67" fill="#59a9d3" stroke="#1f6d94"/>
<rect x="884.5" y="618.5" width="5" height="68" fill="#59a9d3" stroke="#1f6d94"/>
<rect x="889.5" y="614.5" width="5" height="72" fill="#59a9d3" stroke="#1f6d94"/>
<rect x="894.5" y="617.5" width="5" height="69" fill="#59a9d3" stroke="#1f6d94"/>
<rect x="899.5" y="622.5" width="5" height="64" fill="#59a9d3" stroke="#1f6d94"/>
<rect x="904.5" y="631.5" width="5" height="55" fill="#59a9d3" stroke="#1f6d94"/>
<rect x="909.5" y="632.5" width="5" height="54" fill="#59a9d3" stroke="#1f6d94"/>
<rect x="914.5" y="642.5" width="5" height="44" fill="#59a9d3" stroke="#1f6d94"/>
<rect x="919.5" y="652.5" width="5" height="34" fill="#59a9d3" stroke="#1f6d94"/>
<rect x="924.5" y="661.5" width="5" height="25" fill="#59a9d3" stroke="#1f6d94"/>
<rect x="929.5" y="663.5" width="5" height="23" fill="#59a9d3" stroke="#1f6d94"/>
<rect x="934.5" y="671.5" width="5" height="15" fill="#59a9d3" stroke="#1f6d94"/>
</g>
<polyline points="16.5,601.8 21.5,604.6 26.5,607.6 31.5,610.0 36.5,612.9 41.5,619.5 46.5,629.0 51.5,639.8 56.5,650.5 61.5,660.6 66.5,668.8 71.5,676.0 76.5,682.2 81.5,688.7 86.5,695.7 91.5,702.4 96.5,708.9 101.5,712.8 106.5,714.8 111.5,715.1 116.5,712.7 121.5,709.8 126.5,706.6 131.5,703.3 136.5,699.4 141.5,696.1 146.5,692.3 151.5,687.9 156.5,682.8 161.5,677.7 166.5,673.4 171.5,670.3 176.5,667.8 181.5,665.4 186.5,663.2 191.5,660.7 196.5,657.6 201.5,654.1 206.5,650.2 211.5,646.3 216.5,643.6 221.5,641.2 226.5,639.3 231.5,638.6 236.5,638.3 241.5,637.4 246.5,636.3 251.5,635.7 256.5,635.7 261.5,636.2 266.5,637.8 271.5,640.4 276.5,643.7 281.5,647.5 286.5,651.9 291.5,655.7 296.5,660.4 301.5,664.5 306.5,668.9 311.5,672.4 316.5,674.5 321.5,677.6 326.5,682.6 331.5,690.5 336.5,699.6 341.5,713.3 346.5,728.0 351.5,743.6 356.5,757.7 361.5,768.3 366.5,775.0 371.5,778.8 376.5,780.8 381.5,781.3 386.5,780.8 391.5,779.3 396.5,775.3 401.5,769.4 406.5,763.0 411.5,756.1 416.5,748.6 421.5,740.9 426.5,732.9 431.5,726.0 436.5,719.8 441.5,715.4 446.5,712.1 451.5,709.8 456.5,708.8 461.5,708.0 466.5,705.9 471.5,703.7 476.5,702.7 481.5,701.3 486.5,697.9 491.5,700.1 496.5,704.8 501.5,710.6 506.5,715.9 511.5,720.6 516.5,725.1 521.5,729.5 526.5,733.2 531.5,734.8 536.5,735.0 541.5,733.6 546.5,731.6 551.5,728.6 556.5,725.6 561.5,722.2 566.5,719.9 571.5,717.7 576.5,716.3 581.5,714.9 586.5,712.9 591.5,709.6 596.5,705.7 601.5,701.6 606.5,697.1 611.5,691.3 616.5,683.9 621.5,675.2 626.5,666.4 631.5,658.4 636.5,651.5 641.5,646.2 646.5,642.4 651.5,640.7 656.5,640.0 661.5,639.3 666.5,638.7 671.5,638.1 676.5,637.1 681.5,637.5 686.5,643.6 691.5,652.7 696.5,663.8 701.5,677.0 706.5,692.0 711.5,705.4 716.5,716.6 721.5,725.7 726.5,734.8 731.5,743.8 736.5,755.0 741.5,767.5 746.5,778.9 751.5,788.1 756.5,794.7 761.5,801.1 766.5,807.2 771.5,814.1 776.5,820.6 781.5,825.1 786.5,829.1 791.5,834.1 796.5,841.0 801.5,847.6 806.5,855.1 811.5,861.7 816.5,868.5 821.5,875.6 826.5,884.4 831.5,891.1 836.5,892.9 841.5,889.9 846.5,883.4 851.5,875.1 856.5,864.9 861.5,853.6 866.5,840.8 871.5,827.3 876.5,813.3 881.5,796.4 886.5,779.3 891.5,761.0 896.5,743.5 901.5,727.4 906.5,713.5 911.5,699.8 916.5,688.6 921.5,679.9 926.5,673.5 931.5,667.5 936.5,663.5" fill="none" stroke="#ff1a1a" stroke-width="1.1" stroke-linejoin="round" clip-path="url(#ck)"/>
<polyline points="16.5,610.2 21.5,615.8 26.5,619.7 31.5,619.8 36.5,624.2 41.5,646.1 46.5,666.9 51.5,683.1 56.5,693.2 61.5,701.1 66.5,701.7 71.5,704.6 76.5,707.0 81.5,714.9 86.5,723.6 91.5,729.1 96.5,734.8 101.5,728.6 106.5,723.0 111.5,716.3 116.5,703.1 121.5,697.9 126.5,693.9 131.5,689.9 136.5,684.0 141.5,683.0 146.5,677.0 151.5,670.1 156.5,662.3 161.5,657.3 166.5,656.6 171.5,657.6 176.5,657.9 181.5,655.8 186.5,654.7 191.5,650.7 196.5,645.1 201.5,640.1 206.5,634.6 211.5,630.9 216.5,632.6 221.5,631.7 226.5,631.8 231.5,635.6 236.5,637.2 241.5,633.7 246.5,631.8 251.5,633.6 256.5,635.6 261.5,638.2 266.5,644.3 271.5,650.6 276.5,656.9 281.5,662.6 286.5,669.8 291.5,670.8 296.5,679.1 301.5,680.9 306.5,686.7 311.5,686.2 316.5,683.2 321.5,689.8 326.5,702.7 331.5,721.9 336.5,736.2 341.5,767.8 346.5,786.8 351.5,806.4 356.5,814.1 361.5,810.5 366.5,801.6 371.5,794.0 376.5,788.8 381.5,783.3 386.5,779.2 391.5,773.0 396.5,759.4 401.5,746.0 406.5,737.0 411.5,728.4 416.5,718.9 421.5,709.9 426.5,701.2 431.5,698.3 436.5,695.2 441.5,697.4 446.5,698.9 451.5,700.8 456.5,704.5 461.5,705.2 466.5,697.3 471.5,695.0 476.5,698.4 481.5,695.8 486.5,684.5 491.5,709.0 496.5,723.6 501.5,733.6 506.5,737.2 511.5,739.4 516.5,742.8 521.5,747.0 526.5,748.1 531.5,741.4 536.5,735.9 541.5,728.1 546.5,723.4 551.5,716.6 556.5,713.7 561.5,708.3 566.5,711.0 571.5,708.9 576.5,710.4 581.5,709.4 586.5,705.2 591.5,696.3 596.5,689.8 601.5,685.3 606.5,679.2 611.5,667.8 616.5,654.7 621.5,640.1 626.5,631.3 631.5,626.5 636.5,623.7 641.5,625.2 646.5,627.1 651.5,634.0 656.5,637.0 661.5,636.4 666.5,636.4 671.5,636.0 676.5,633.0 681.5,639.1 686.5,667.8 691.5,689.3 696.5,708.1 701.5,730.0 706.5,751.7 711.5,759.3 716.5,761.3 721.5,762.2 726.5,771.2 731.5,779.7 736.5,799.8 741.5,817.6 746.5,824.2 751.5,825.3 756.5,820.8 761.5,826.8 766.5,831.4 771.5,841.7 776.5,846.7 781.5,843.0 786.5,845.3 791.5,854.2 796.5,868.5 801.5,873.8 806.5,885.2 811.5,888.1 816.5,895.5 821.5,904.1 826.5,919.7 831.5,917.8 836.5,900.0 841.5,877.9 846.5,857.7 851.5,841.9 856.5,823.8 861.5,808.4 866.5,789.8 871.5,773.4 876.5,757.1 881.5,728.9 886.5,710.6 891.5,688.0 896.5,673.4 901.5,663.0 906.5,658.0 911.5,645.1 916.5,643.6 921.5,645.3 926.5,647.8 931.5,643.5 936.5,647.6" fill="none" stroke="#000" stroke-width="1.8" stroke-linejoin="round" clip-path="url(#ck)"/>
<rect x="17" y="598" width="216" height="12" fill="#fff"/>
<line x1="697" y1="753.5" x2="866" y2="716" stroke="#0000ff" stroke-width="1.1"/>
<g shape-rendering="crispEdges" fill="none" stroke="#bdbdbd">
<rect x="16.5" y="28.5" width="927" height="411"/>
<rect x="16.5" y="453.5" width="927" height="144"/>
<rect x="16.5" y="597.5" width="927" height="329"/>
</g>
<path d="M21.5,440v1M21.5,452v1M21.5,927v1M26.5,440v1M26.5,452v1M26.5,927v1M31.5,440v1M31.5,452v1M31.5,927v1M36.5,440v1M36.5,452v1M36.5,927v1M41.5,440v1M41.5,452v1M41.5,927v1M46.5,440v1M46.5,452v1M46.5,927v1M51.5,440v1M51.5,452v1M51.5,927v1M56.5,440v1M56.5,452v1M56.5,927v1M61.5,440v1M61.5,452v1M61.5,927v1M66.5,440v1M66.5,452v1M66.5,927v1M71.5,440v1M71.5,452v1M71.5,927v1M76.5,440v1M76.5,452v1M76.5,927v1M81.5,440v1M81.5,452v1M81.5,927v1M86.5,440v1M86.5,452v1M86.5,927v1M91.5,440v1M91.5,452v1M91.5,927v1M96.5,440v1M96.5,452v1M96.5,927v1M101.5,440v1M101.5,452v1M101.5,927v1M106.5,440v1M106.5,452v1M106.5,927v1M111.5,440v1M111.5,452v1M111.5,927v1M116.5,440v1M116.5,452v1M116.5,927v1M121.5,440v1M121.5,452v1M121.5,927v1M126.5,440v1M126.5,452v1M126.5,927v1M131.5,440v1M131.5,452v1M131.5,927v1M136.5,440v1M136.5,452v1M136.5,927v1M141.5,440v1M141.5,452v1M141.5,927v1M146.5,440v1M146.5,452v1M146.5,927v1M151.5,440v1M151.5,452v1M151.5,927v1M156.5,440v1M156.5,452v1M156.5,927v1M161.5,440v1M161.5,452v1M161.5,927v1M166.5,440v1M166.5,452v1M166.5,927v1M171.5,440v1M171.5,452v1M171.5,927v1M176.5,440v1M176.5,452v1M176.5,927v1M181.5,440v1M181.5,452v1M181.5,927v1M186.5,440v1M186.5,452v1M186.5,927v1M191.5,440v1M191.5,452v1M191.5,927v1M196.5,440v1M196.5,452v1M196.5,927v1M201.5,440v1M201.5,452v1M201.5,927v1M206.5,440v1M206.5,452v1M206.5,927v1M211.5,440v1M211.5,452v1M211.5,927v1M216.5,440v1M216.5,452v1M216.5,927v1M221.5,440v1M221.5,452v1M221.5,927v1M226.5,440v1M226.5,452v1M226.5,927v1M231.5,440v1M231.5,452v1M231.5,927v1M236.5,440v1M236.5,452v1M236.5,927v1M241.5,440v1M241.5,452v1M241.5,927v1M246.5,440v1M246.5,452v1M246.5,927v1M251.5,440v1M251.5,452v1M251.5,927v1M256.5,440v1M256.5,452v1M256.5,927v1M261.5,440v1M261.5,452v1M261.5,927v1M266.5,440v1M266.5,452v1M266.5,927v1M271.5,440v1M271.5,452v1M271.5,927v1M276.5,440v1M276.5,452v1M276.5,927v1M281.5,440v1M281.5,452v1M281.5,927v1M286.5,440v1M286.5,452v1M286.5,927v1M291.5,440v1M291.5,452v1M291.5,927v1M296.5,440v1M296.5,452v1M296.5,927v1M301.5,440v1M301.5,452v1M301.5,927v1M306.5,440v1M306.5,452v1M306.5,927v1M311.5,440v1M311.5,452v1M311.5,927v1M316.5,440v1M316.5,452v1M316.5,927v1M321.5,440v1M321.5,452v1M321.5,927v1M326.5,440v1M326.5,452v1M326.5,927v1M331.5,440v1M331.5,452v1M331.5,927v1M336.5,440v1M336.5,452v1M336.5,927v1M341.5,440v1M341.5,452v1M341.5,927v1M346.5,440v1M346.5,452v1M346.5,927v1M351.5,440v1M351.5,452v1M351.5,927v1M356.5,440v1M356.5,452v1M356.5,927v1M361.5,440v1M361.5,452v1M361.5,927v1M366.5,440v1M366.5,452v1M366.5,927v1M371.5,440v1M371.5,452v1M371.5,927v1M376.5,440v1M376.5,452v1M376.5,927v1M381.5,440v1M381.5,452v1M381.5,927v1M386.5,440v1M386.5,452v1M386.5,927v1M391.5,440v1M391.5,452v1M391.5,927v1M396.5,440v1M396.5,452v1M396.5,927v1M401.5,440v1M401.5,452v1M401.5,927v1M406.5,440v1M406.5,452v1M406.5,927v1M411.5,440v1M411.5,452v1M411.5,927v1M416.5,440v1M416.5,452v1M416.5,927v1M421.5,440v1M421.5,452v1M421.5,927v1M426.5,440v1M426.5,452v1M426.5,927v1M431.5,440v1M431.5,452v1M431.5,927v1M436.5,440v1M436.5,452v1M436.5,927v1M441.5,440v1M441.5,452v1M441.5,927v1M446.5,440v1M446.5,452v1M446.5,927v1M451.5,440v1M451.5,452v1M451.5,927v1M456.5,440v1M456.5,452v1M456.5,927v1M461.5,440v1M461.5,452v1M461.5,927v1M466.5,440v1M466.5,452v1M466.5,927v1M471.5,440v1M471.5,452v1M471.5,927v1M476.5,440v1M476.5,452v1M476.5,927v1M481.5,440v1M481.5,452v1M481.5,927v1M486.5,440v1M486.5,452v1M486.5,927v1M491.5,440v1M491.5,452v1M491.5,927v1M496.5,440v1M496.5,452v1M496.5,927v1M501.5,440v1M501.5,452v1M501.5,927v1M506.5,440v1M506.5,452v1M506.5,927v1M511.5,440v1M511.5,452v1M511.5,927v1M516.5,440v1M516.5,452v1M516.5,927v1M521.5,440v1M521.5,452v1M521.5,927v1M526.5,440v1M526.5,452v1M526.5,927v1M531.5,440v1M531.5,452v1M531.5,927v1M536.5,440v1M536.5,452v1M536.5,927v1M541.5,440v1M541.5,452v1M541.5,927v1M546.5,440v1M546.5,452v1M546.5,927v1M551.5,440v1M551.5,452v1M551.5,927v1M556.5,440v1M556.5,452v1M556.5,927v1M561.5,440v1M561.5,452v1M561.5,927v1M566.5,440v1M566.5,452v1M566.5,927v1M571.5,440v1M571.5,452v1M571.5,927v1M576.5,440v1M576.5,452v1M576.5,927v1M581.5,440v1M581.5,452v1M581.5,927v1M586.5,440v1M586.5,452v1M586.5,927v1M591.5,440v1M591.5,452v1M591.5,927v1M596.5,440v1M596.5,452v1M596.5,927v1M601.5,440v1M601.5,452v1M601.5,927v1M606.5,440v1M606.5,452v1M606.5,927v1M611.5,440v1M611.5,452v1M611.5,927v1M616.5,440v1M616.5,452v1M616.5,927v1M621.5,440v1M621.5,452v1M621.5,927v1M626.5,440v1M626.5,452v1M626.5,927v1M631.5,440v1M631.5,452v1M631.5,927v1M636.5,440v1M636.5,452v1M636.5,927v1M641.5,440v1M641.5,452v1M641.5,927v1M646.5,440v1M646.5,452v1M646.5,927v1M651.5,440v1M651.5,452v1M651.5,927v1M656.5,440v1M656.5,452v1M656.5,927v1M661.5,440v1M661.5,452v1M661.5,927v1M666.5,440v1M666.5,452v1M666.5,927v1M671.5,440v1M671.5,452v1M671.5,927v1M676.5,440v1M676.5,452v1M676.5,927v1M681.5,440v1M681.5,452v1M681.5,927v1M686.5,440v1M686.5,452v1M686.5,927v1M691.5,440v1M691.5,452v1M691.5,927v1M696.5,440v1M696.5,452v1M696.5,927v1M701.5,440v1M701.5,452v1M701.5,927v1M706.5,440v1M706.5,452v1M706.5,927v1M711.5,440v1M711.5,452v1M711.5,927v1M716.5,440v1M716.5,452v1M716.5,927v1M721.5,440v1M721.5,452v1M721.5,927v1M726.5,440v1M726.5,452v1M726.5,927v1M731.5,440v1M731.5,452v1M731.5,927v1M736.5,440v1M736.5,452v1M736.5,927v1M741.5,440v1M741.5,452v1M741.5,927v1M746.5,440v1M746.5,452v1M746.5,927v1M751.5,440v1M751.5,452v1M751.5,927v1M756.5,440v1M756.5,452v1M756.5,927v1M761.5,440v1M761.5,452v1M761.5,927v1M766.5,440v1M766.5,452v1M766.5,927v1M771.5,440v1M771.5,452v1M771.5,927v1M776.5,440v1M776.5,452v1M776.5,927v1M781.5,440v1M781.5,452v1M781.5,927v1M786.5,440v1M786.5,452v1M786.5,927v1M791.5,440v1M791.5,452v1M791.5,927v1M796.5,440v1M796.5,452v1M796.5,927v1M801.5,440v1M801.5,452v1M801.5,927v1M806.5,440v1M806.5,452v1M806.5,927v1M811.5,440v1M811.5,452v1M811.5,927v1M816.5,440v1M816.5,452v1M816.5,927v1M821.5,440v1M821.5,452v1M821.5,927v1M826.5,440v1M826.5,452v1M826.5,927v1M831.5,440v1M831.5,452v1M831.5,927v1M836.5,440v1M836.5,452v1M836.5,927v1M841.5,440v1M841.5,452v1M841.5,927v1M846.5,440v1M846.5,452v1M846.5,927v1M851.5,440v1M851.5,452v1M851.5,927v1M856.5,440v1M856.5,452v1M856.5,927v1M861.5,440v1M861.5,452v1M861.5,927v1M866.5,440v1M866.5,452v1M866.5,927v1M871.5,440v1M871.5,452v1M871.5,927v1M876.5,440v1M876.5,452v1M876.5,927v1M881.5,440v1M881.5,452v1M881.5,927v1M886.5,440v1M886.5,452v1M886.5,927v1M891.5,440v1M891.5,452v1M891.5,927v1M896.5,440v1M896.5,452v1M896.5,927v1M901.5,440v1M901.5,452v1M901.5,927v1M906.5,440v1M906.5,452v1M906.5,927v1M911.5,440v1M911.5,452v1M911.5,927v1M916.5,440v1M916.5,452v1M916.5,927v1M921.5,440v1M921.5,452v1M921.5,927v1M926.5,440v1M926.5,452v1M926.5,927v1M931.5,440v1M931.5,452v1M931.5,927v1M936.5,440v1M936.5,452v1M936.5,927v1" stroke="#b8b8b8" shape-rendering="crispEdges"/>
<path d="M41.5,939v1M71.5,939v1M101.5,939v1M116.5,939v1M146.5,939v1M176.5,939v1M206.5,939v1M236.5,939v1M266.5,939v1M296.5,939v1M311.5,939v1M341.5,939v1M371.5,939v1M401.5,939v1M431.5,939v1M461.5,939v1M491.5,939v1M506.5,939v1M536.5,939v1M566.5,939v1M596.5,939v1M626.5,939v1M656.5,939v1M686.5,939v1M701.5,939v1M731.5,939v1M761.5,939v1M791.5,939v1M821.5,939v1M851.5,939v1M881.5,939v1M896.5,939v1M926.5,939v1" stroke="#d8d8d8" shape-rendering="crispEdges"/>
<path d="M944,38.5h2M944,41.5h1M944,45.5h1M944,48.5h1M944,52.5h1M944,55.5h2M944,58.5h1M944,62.5h1M944,65.5h1M944,69.5h1M944,72.5h2M944,75.5h1M944,79.5h1M944,82.5h1M944,85.5h1M944,89.5h2M944,92.5h1M944,96.5h1M944,99.5h1M944,102.5h1M944,106.5h2M944,109.5h1M944,113.5h1M944,116.5h1M944,119.5h1M944,123.5h2M944,126.5h1M944,130.5h1M944,133.5h1M944,136.5h1M944,140.5h2M944,143.5h1M944,147.5h1M944,150.5h1M944,153.5h1M944,157.5h2M944,160.5h1M944,163.5h1M944,167.5h1M944,170.5h1M944,174.5h2M944,177.5h1M944,180.5h1M944,184.5h1M944,187.5h1M944,191.5h2M944,194.5h1M944,197.5h1M944,201.5h1M944,204.5h1M944,208.5h2M944,211.5h1M944,214.5h1M944,218.5h1M944,221.5h1M944,225.5h2M944,228.5h1M944,231.5h1M944,235.5h1M944,238.5h1M944,241.5h2M944,245.5h1M944,248.5h1M944,252.5h1M944,255.5h1M944,258.5h2M944,262.5h1M944,265.5h1M944,269.5h1M944,272.5h1M944,275.5h2M944,279.5h1M944,282.5h1M944,286.5h1M944,289.5h1M944,292.5h2M944,296.5h1M944,299.5h1M944,303.5h1M944,306.5h1M944,309.5h2M944,313.5h1M944,316.5h1M944,319.5h1M944,323.5h1M944,326.5h2M944,330.5h1M944,333.5h1M944,336.5h1M944,340.5h1M944,343.5h2M944,347.5h1M944,350.5h1M944,353.5h1M944,357.5h1M944,360.5h2M944,364.5h1M944,367.5h1M944,370.5h1M944,374.5h1M944,377.5h2M944,381.5h1M944,384.5h1M944,387.5h1M944,391.5h1M944,394.5h2M944,397.5h1M944,401.5h1M944,404.5h1M944,408.5h1M944,411.5h2M944,414.5h1M944,418.5h1M944,421.5h1M944,425.5h1M944,428.5h2M944,431.5h1M944,435.5h1M944,438.5h1M944,596.5h2M944,591.5h1M944,587.5h1M944,582.5h1M944,578.5h2M944,573.5h1M944,568.5h1M944,564.5h1M944,559.5h2M944,555.5h1M944,550.5h1M944,546.5h1M944,541.5h2M944,537.5h1M944,532.5h1M944,528.5h1M944,523.5h2M944,518.5h1M944,514.5h1M944,509.5h1M944,505.5h2M944,500.5h1M944,496.5h1M944,491.5h1M944,487.5h2M944,482.5h1M944,478.5h1M944,473.5h1M944,469.5h2M944,464.5h1M944,459.5h1M944,455.5h1M944,925.5h1M944,922.5h1M944,919.5h1M944,916.5h2M944,913.5h1M944,910.5h1M944,907.5h1M944,904.5h1M944,901.5h2M944,898.5h1M944,895.5h1M944,892.5h1M944,889.5h1M944,885.5h2M944,882.5h1M944,879.5h1M944,876.5h1M944,873.5h1M944,870.5h2M944,867.5h1M944,864.5h1M944,861.5h1M944,858.5h1M944,855.5h2M944,852.5h1M944,849.5h1M944,846.5h1M944,843.5h1M944,840.5h2M944,836.5h1M944,833.5h1M944,830.5h1M944,827.5h1M944,824.5h2M944,821.5h1M944,818.5h1M944,815.5h1M944,812.5h1M944,809.5h2M944,806.5h1M944,803.5h1M944,800.5h1M944,797.5h1M944,794.5h2M944,790.5h1M944,787.5h1M944,784.5h1M944,781.5h1M944,778.5h2M944,775.5h1M944,772.5h1M944,769.5h1M944,766.5h1M944,763.5h2M944,760.5h1M944,757.5h1M944,754.5h1M944,751.5h1M944,748.5h2M944,745.5h1M944,741.5h1M944,738.5h1M944,735.5h1M944,732.5h2M944,729.5h1M944,726.5h1M944,723.5h1M944,720.5h1M944,717.5h2M944,714.5h1M944,711.5h1M944,708.5h1M944,705.5h1M944,702.5h2M944,699.5h1M944,695.5h1M944,692.5h1M944,689.5h1M944,686.5h2M944,683.5h1M944,680.5h1M944,677.5h1M944,674.5h1M944,671.5h2M944,668.5h1M944,665.5h1M944,662.5h1M944,659.5h1M944,656.5h2M944,653.5h1M944,650.5h1M944,646.5h1M944,643.5h1M944,640.5h2M944,637.5h1M944,634.5h1M944,631.5h1M944,628.5h1M944,625.5h2M944,622.5h1M944,619.5h1M944,616.5h1M944,613.5h1M944,610.5h2M944,607.5h1M944,604.5h1M944,601.5h1M944,597.5h1" stroke="#b0b0b0" shape-rendering="crispEdges"/>
<line x1="2" y1="53.5" x2="951" y2="53.5" stroke="#0000ff" stroke-dasharray="2 4" shape-rendering="crispEdges"/>
<line x1="3" y1="65.5" x2="947" y2="65.5" stroke="#0000ff" stroke-dasharray="2 4" shape-rendering="crispEdges"/>
<line x1="1" y1="87.5" x2="178" y2="87.5" stroke="#0000ff" stroke-dasharray="2 4" shape-rendering="crispEdges"/>
<line x1="-3" y1="120.5" x2="650" y2="120.5" stroke="#0000ff" stroke-dasharray="4 2" shape-rendering="crispEdges"/>
<line x1="6" y1="152.5" x2="961" y2="152.5" stroke="#0000ff" stroke-dasharray="2 4" shape-rendering="crispEdges"/>
<line x1="879" y1="302.5" x2="943" y2="302.5" stroke="#0000ff" stroke-dasharray="3 3" shape-rendering="crispEdges"/>
<g clip-path="url(#cc)"><path d="M196.5,45.5L201.5,50L206.5,45.5" fill="none" stroke="#d0d0d0"/>
<rect x="182.5" y="35.5" width="36.0" height="10" fill="#fff" fill-opacity="0.9" stroke="#d0d0d0"/>
<text x="199.9" y="43.8" font-size="10.4" text-anchor="middle" textLength="32.6" lengthAdjust="spacingAndGlyphs" stroke="#000" stroke-width="0.25">5871.11</text></g>
<g clip-path="url(#cc)"><path d="M241.5,41.5L246.5,46.5L251.5,41.5" fill="none" stroke="#d0d0d0"/>
<rect x="227.5" y="31.5" width="36.0" height="10" fill="#fff" fill-opacity="0.9" stroke="#d0d0d0"/>
<text x="244.9" y="39.8" font-size="10.4" text-anchor="middle" textLength="32.6" lengthAdjust="spacingAndGlyphs" stroke="#000" stroke-width="0.25">5872.17</text></g>
<g clip-path="url(#cc)"><path d="M96.5,70.5L101.5,75L106.5,70.5" fill="none" stroke="#d0d0d0"/>
<rect x="82.5" y="60.5" width="36.0" height="10" fill="#fff" fill-opacity="0.9" stroke="#d0d0d0"/>
<text x="99.9" y="68.8" font-size="10.4" text-anchor="middle" textLength="32.6" lengthAdjust="spacingAndGlyphs" stroke="#000" stroke-width="0.25">5863.64</text></g>
<g clip-path="url(#cc)"><path d="M231.5,102.5L236.5,97L241.5,102.5" fill="none" stroke="#d0d0d0"/>
<rect x="217.5" y="102.5" width="36.0" height="10" fill="#fff" fill-opacity="0.9" stroke="#d0d0d0"/>
<text x="234.9" y="110.8" font-size="10.4" text-anchor="middle" textLength="32.6" lengthAdjust="spacingAndGlyphs" stroke="#000" stroke-width="0.25">5857.95</text></g>
<g clip-path="url(#cc)"><path d="M91.5,162.5L96.5,157L101.5,162.5" fill="none" stroke="#d0d0d0"/>
<rect x="77.5" y="162.5" width="36.0" height="10" fill="#fff" fill-opacity="0.9" stroke="#d0d0d0"/>
<text x="94.9" y="170.8" font-size="10.4" text-anchor="middle" textLength="32.6" lengthAdjust="spacingAndGlyphs" stroke="#000" stroke-width="0.25">5840.25</text></g>
<g clip-path="url(#cc)"><path d="M351.5,216.5L356.5,211L361.5,216.5" fill="none" stroke="#d0d0d0"/>
<rect x="337.5" y="216.5" width="36.0" height="10" fill="#fff" fill-opacity="0.9" stroke="#d0d0d0"/>
<text x="354.9" y="224.8" font-size="10.4" text-anchor="middle" textLength="32.6" lengthAdjust="spacingAndGlyphs" stroke="#000" stroke-width="0.25">5824.79</text></g>
<g clip-path="url(#cc)"><path d="M481.5,101.5L486.5,106L491.5,101.5" fill="none" stroke="#d0d0d0"/>
<rect x="467.5" y="91.5" width="36.0" height="10" fill="#fff" fill-opacity="0.9" stroke="#d0d0d0"/>
<text x="484.9" y="99.8" font-size="10.4" text-anchor="middle" textLength="32.6" lengthAdjust="spacingAndGlyphs" stroke="#000" stroke-width="0.25">5854.78</text></g>
<g clip-path="url(#cc)"><path d="M486.5,227.5L491.5,222L496.5,227.5" fill="none" stroke="#d0d0d0"/>
<rect x="472.5" y="227.5" width="36.0" height="10" fill="#fff" fill-opacity="0.9" stroke="#d0d0d0"/>
<text x="489.9" y="235.8" font-size="10.4" text-anchor="middle" textLength="32.6" lengthAdjust="spacingAndGlyphs" stroke="#000" stroke-width="0.25">5821.17</text></g>
<g clip-path="url(#cc)"><path d="M621.5,73.5L626.5,78L631.5,73.5" fill="none" stroke="#d0d0d0"/>
<rect x="607.5" y="63.5" width="36.0" height="10" fill="#fff" fill-opacity="0.9" stroke="#d0d0d0"/>
<text x="624.9" y="71.8" font-size="10.4" text-anchor="middle" textLength="32.6" lengthAdjust="spacingAndGlyphs" stroke="#000" stroke-width="0.25">5863.04</text></g>
<g clip-path="url(#cc)"><path d="M671.5,83.5L676.5,88L681.5,83.5" fill="none" stroke="#d0d0d0"/>
<rect x="657.5" y="73.5" width="36.0" height="10" fill="#fff" fill-opacity="0.9" stroke="#d0d0d0"/>
<text x="674.9" y="81.8" font-size="10.4" text-anchor="middle" textLength="32.6" lengthAdjust="spacingAndGlyphs" stroke="#000" stroke-width="0.25">5860.37</text></g>
<g clip-path="url(#cc)"><path d="M646.5,138.5L651.5,133L656.5,138.5" fill="none" stroke="#d0d0d0"/>
<rect x="632.5" y="138.5" width="36.0" height="10" fill="#fff" fill-opacity="0.9" stroke="#d0d0d0"/>
<text x="649.9" y="146.8" font-size="10.4" text-anchor="middle" textLength="32.6" lengthAdjust="spacingAndGlyphs" stroke="#000" stroke-width="0.25">5847.40</text></g>
<g clip-path="url(#cc)"><path d="M716.5,168.5L721.5,173L726.5,168.5" fill="none" stroke="#d0d0d0"/>
<rect x="702.5" y="158.5" width="36.0" height="10" fill="#fff" fill-opacity="0.9" stroke="#d0d0d0"/>
<text x="719.9" y="166.8" font-size="10.4" text-anchor="middle" textLength="32.6" lengthAdjust="spacingAndGlyphs" stroke="#000" stroke-width="0.25">5834.85</text></g>
<g clip-path="url(#cc)"><path d="M706.5,234.5L711.5,229L716.5,234.5" fill="none" stroke="#d0d0d0"/>
<rect x="692.5" y="234.5" width="36.0" height="10" fill="#fff" fill-opacity="0.9" stroke="#d0d0d0"/>
<text x="709.9" y="242.8" font-size="10.4" text-anchor="middle" textLength="32.6" lengthAdjust="spacingAndGlyphs" stroke="#000" stroke-width="0.25">5819.10</text></g>
<g clip-path="url(#cc)"><path d="M821.5,426.5L826.5,421L831.5,426.5" fill="none" stroke="#d0d0d0"/>
<rect x="807.5" y="426.5" width="36.0" height="10" fill="#fff" fill-opacity="0.9" stroke="#d0d0d0"/>
<text x="824.9" y="434.8" font-size="10.4" text-anchor="middle" textLength="32.6" lengthAdjust="spacingAndGlyphs" stroke="#000" stroke-width="0.25">5762.41</text></g>
<g clip-path="url(#cc)"><path d="M891.5,228.5L896.5,233L901.5,228.5" fill="none" stroke="#d0d0d0"/>
<rect x="877.5" y="218.5" width="36.0" height="10" fill="#fff" fill-opacity="0.9" stroke="#d0d0d0"/>
<text x="894.9" y="226.8" font-size="10.4" text-anchor="middle" textLength="32.6" lengthAdjust="spacingAndGlyphs" stroke="#000" stroke-width="0.25">5817.27</text></g>
<g clip-path="url(#cc)"><path d="M921.5,295.5L926.5,290L931.5,295.5" fill="none" stroke="#d0d0d0"/>
<rect x="907.5" y="295.5" width="36.0" height="10" fill="#fff" fill-opacity="0.9" stroke="#d0d0d0"/>
<text x="924.9" y="303.8" font-size="10.4" text-anchor="middle" textLength="32.6" lengthAdjust="spacingAndGlyphs" stroke="#000" stroke-width="0.25">5801.00</text></g>
<line x1="77" y1="160.5" x2="351" y2="86.3" stroke="#0000ff" stroke-width="2.4"/>
<line x1="346" y1="216" x2="507" y2="136.3" stroke="#0000ff" stroke-width="2.4"/>
<line x1="486" y1="226.2" x2="711.3" y2="113.8" stroke="#0000ff" stroke-width="2.4"/>
<line x1="867" y1="229" x2="945" y2="248.7" stroke="#0000ff" stroke-width="2.4"/>
<line x1="677" y1="80" x2="862" y2="399.5" stroke="#0000ff" stroke-width="1.1" stroke-dasharray="4 2"/>
<line x1="156" y1="102.5" x2="963" y2="102.5" stroke="#0000ff" stroke-dasharray="2 4" shape-rendering="crispEdges"/>
<line x1="481" y1="176.5" x2="969" y2="176.5" stroke="#0000ff" stroke-dasharray="2 4" shape-rendering="crispEdges"/>
<line x1="481" y1="221.5" x2="965" y2="221.5" stroke="#0000ff" stroke-dasharray="4 2" shape-rendering="crispEdges"/>
<line x1="716" y1="272.5" x2="961" y2="272.5" stroke="#0000ff" stroke-dasharray="4 2" shape-rendering="crispEdges"/>
<line x1="726" y1="296.5" x2="961" y2="296.5" stroke="#0000ff" stroke-dasharray="4 2" shape-rendering="crispEdges"/>
<text x="946.6" y="41.3" font-size="9.9" textLength="23.4" lengthAdjust="spacingAndGlyphs" stroke="#000" stroke-width="0.25">5875</text>
<text x="946.6" y="58.3" font-size="9.9" textLength="23.4" lengthAdjust="spacingAndGlyphs" stroke="#000" stroke-width="0.25">5870</text>
<text x="946.6" y="75.3" font-size="9.9" textLength="23.4" lengthAdjust="spacingAndGlyphs" stroke="#000" stroke-width="0.25">5865</text>
<text x="946.6" y="92.3" font-size="9.9" textLength="23.4" lengthAdjust="spacingAndGlyphs" stroke="#000" stroke-width="0.25">5860</text>
<text x="946.6" y="109.3" font-size="9.9" textLength="23.4" lengthAdjust="spacingAndGlyphs" stroke="#000" stroke-width="0.25">5855</text>
<text x="946.6" y="126.3" font-size="9.9" textLength="23.4" lengthAdjust="spacingAndGlyphs" stroke="#000" stroke-width="0.25">5850</text>
<text x="946.6" y="143.3" font-size="9.9" textLength="23.4" lengthAdjust="spacingAndGlyphs" stroke="#000" stroke-width="0.25">5845</text>
<text x="946.6" y="160.3" font-size="9.9" textLength="23.4" lengthAdjust="spacingAndGlyphs" stroke="#000" stroke-width="0.25">5840</text>
<text x="946.6" y="177.3" font-size="9.9" textLength="23.4" lengthAdjust="spacingAndGlyphs" stroke="#000" stroke-width="0.25">5835</text>
<text x="946.6" y="194.3" font-size="9.9" textLength="23.4" lengthAdjust="spacingAndGlyphs" stroke="#000" stroke-width="0.25">5830</text>
<text x="946.6" y="211.3" font-size="9.9" textLength="23.4" lengthAdjust="spacingAndGlyphs" stroke="#000" stroke-width="0.25">5825</text>
<text x="946.6" y="228.3" font-size="9.9" textLength="23.4" lengthAdjust="spacingAndGlyphs" stroke="#000" stroke-width="0.25">5820</text>
<text x="946.6" y="245.3" font-size="9.9" textLength="23.4" lengthAdjust="spacingAndGlyphs" stroke="#000" stroke-width="0.25">5815</text>
<text x="946.6" y="262.3" font-size="9.9" textLength="23.4" lengthAdjust="spacingAndGlyphs" stroke="#000" stroke-width="0.25">5810</text>
<text x="946.6" y="279.3" font-size="9.9" textLength="23.4" lengthAdjust="spacingAndGlyphs" stroke="#000" stroke-width="0.25">5805</text>
<text x="946.6" y="296.3" font-size="9.9" textLength="23.4" lengthAdjust="spacingAndGlyphs" stroke="#000" stroke-width="0.25">5800</text>
<text x="946.6" y="313.3" font-size="9.9" textLength="23.4" lengthAdjust="spacingAndGlyphs" stroke="#000" stroke-width="0.25">5795</text>
<text x="946.6" y="330.3" font-size="9.9" textLength="23.4" lengthAdjust="spacingAndGlyphs" stroke="#000" stroke-width="0.25">5790</text>
<text x="946.6" y="347.3" font-size="9.9" textLength="23.4" lengthAdjust="spacingAndGlyphs" stroke="#000" stroke-width="0.25">5785</text>
<text x="946.6" y="364.3" font-size="9.9" textLength="23.4" lengthAdjust="spacingAndGlyphs" stroke="#000" stroke-width="0.25">5780</text>
<text x="946.6" y="381.3" font-size="9.9" textLength="23.4" lengthAdjust="spacingAndGlyphs" stroke="#000" stroke-width="0.25">5775</text>
<text x="946.6" y="398.3" font-size="9.9" textLength="23.4" lengthAdjust="spacingAndGlyphs" stroke="#000" stroke-width="0.25">5770</text>
<text x="946.6" y="415.3" font-size="9.9" textLength="23.4" lengthAdjust="spacingAndGlyphs" stroke="#000" stroke-width="0.25">5765</text>
<text x="946.6" y="431.3" font-size="9.9" textLength="23.4" lengthAdjust="spacingAndGlyphs" stroke="#000" stroke-width="0.25">5760</text>
<text x="973.2" y="581.4" font-size="9.8" text-anchor="end" stroke="#000" stroke-width="0.25">25M</text>
<text x="973.2" y="563.4" font-size="9.8" text-anchor="end" stroke="#000" stroke-width="0.25">50M</text>
<text x="973.2" y="545.4" font-size="9.8" text-anchor="end" stroke="#000" stroke-width="0.25">75M</text>
<text x="973.2" y="527.4" font-size="9.8" text-anchor="end" stroke="#000" stroke-width="0.25">100M</text>
<text x="973.2" y="508.4" font-size="9.8" text-anchor="end" stroke="#000" stroke-width="0.25">125M</text>
<text x="973.2" y="490.4" font-size="9.8" text-anchor="end" stroke="#000" stroke-width="0.25">150M</text>
<text x="973.2" y="472.4" font-size="9.8" text-anchor="end" stroke="#000" stroke-width="0.25">175M</text>
<text x="961.5" y="919.4" font-size="10" text-anchor="end" stroke="#000" stroke-width="0.25">-15</text>
<text x="961.5" y="904.4" font-size="10" text-anchor="end" stroke="#000" stroke-width="0.25">-14</text>
<text x="961.5" y="888.4" font-size="10" text-anchor="end" stroke="#000" stroke-width="0.25">-13</text>
<text x="961.5" y="873.4" font-size="10" text-anchor="end" stroke="#000" stroke-width="0.25">-12</text>
<text x="961.5" y="858.4" font-size="10" text-anchor="end" stroke="#000" stroke-width="0.25">-11</text>
<text x="961.5" y="843.4" font-size="10" text-anchor="end" stroke="#000" stroke-width="0.25">-10</text>
<text x="961.5" y="827.4" font-size="10" text-anchor="end" stroke="#000" stroke-width="0.25">-9</text>
<text x="961.5" y="812.4" font-size="10" text-anchor="end" stroke="#000" stroke-width="0.25">-8</text>
<text x="961.5" y="797.4" font-size="10" text-anchor="end" stroke="#000" stroke-width="0.25">-7</text>
<text x="961.5" y="781.4" font-size="10" text-anchor="end" stroke="#000" stroke-width="0.25">-6</text>
<text x="961.5" y="766.4" font-size="10" text-anchor="end" stroke="#000" stroke-width="0.25">-5</text>
<text x="961.5" y="751.4" font-size="10" text-anchor="end" stroke="#000" stroke-width="0.25">-4</text>
<text x="961.5" y="735.4" font-size="10" text-anchor="end" stroke="#000" stroke-width="0.25">-3</text>
<text x="961.5" y="720.4" font-size="10" text-anchor="end" stroke="#000" stroke-width="0.25">-2</text>
<text x="961.5" y="705.4" font-size="10" text-anchor="end" stroke="#000" stroke-width="0.25">-1</text>
<text x="961.5" y="689.4" font-size="10" text-anchor="end" stroke="#000" stroke-width="0.25">0</text>
<text x="961.5" y="674.4" font-size="10" text-anchor="end" stroke="#000" stroke-width="0.25">1</text>
<text x="961.5" y="659.4" font-size="10" text-anchor="end" stroke="#000" stroke-width="0.25">2</text>
<text x="961.5" y="643.4" font-size="10" text-anchor="end" stroke="#000" stroke-width="0.25">3</text>
<text x="961.5" y="628.4" font-size="10" text-anchor="end" stroke="#000" stroke-width="0.25">4</text>
<text x="961.5" y="613.4" font-size="10" text-anchor="end" stroke="#000" stroke-width="0.25">5</text>
<text x="41.5" y="450" text-anchor="middle" font-size="9.7" stroke="#000" stroke-width="0.25">2</text>
<text x="41.5" y="936" text-anchor="middle" font-size="9.7" stroke="#000" stroke-width="0.25">2</text>
<text x="71.5" y="450" text-anchor="middle" font-size="9.7" stroke="#000" stroke-width="0.25">3</text>
<text x="71.5" y="936" text-anchor="middle" font-size="9.7" stroke="#000" stroke-width="0.25">3</text>
<text x="101.5" y="450" text-anchor="middle" font-weight="bold" font-size="10.5" stroke="#000" stroke-width="0.25">18Oct</text>
<text x="101.5" y="936" text-anchor="middle" font-weight="bold" font-size="10.5" stroke="#000" stroke-width="0.25">18Oct</text>
<text x="146.5" y="450" text-anchor="middle" font-size="9.7" stroke="#000" stroke-width="0.25">11</text>
<text x="146.5" y="936" text-anchor="middle" font-size="9.7" stroke="#000" stroke-width="0.25">11</text>
<text x="176.5" y="450" text-anchor="middle" font-size="9.7" stroke="#000" stroke-width="0.25">12</text>
<text x="176.5" y="936" text-anchor="middle" font-size="9.7" stroke="#000" stroke-width="0.25">12</text>
<text x="206.5" y="450" text-anchor="middle" font-size="9.7" stroke="#000" stroke-width="0.25">1</text>
<text x="206.5" y="936" text-anchor="middle" font-size="9.7" stroke="#000" stroke-width="0.25">1</text>
<text x="236.5" y="450" text-anchor="middle" font-size="9.7" stroke="#000" stroke-width="0.25">2</text>
<text x="236.5" y="936" text-anchor="middle" font-size="9.7" stroke="#000" stroke-width="0.25">2</text>
<text x="266.5" y="450" text-anchor="middle" font-size="9.7" stroke="#000" stroke-width="0.25">3</text>
<text x="266.5" y="936" text-anchor="middle" font-size="9.7" stroke="#000" stroke-width="0.25">3</text>
<text x="296.5" y="450" text-anchor="middle" font-weight="bold" font-size="10.5" stroke="#000" stroke-width="0.25">21Oct</text>
<text x="296.5" y="936" text-anchor="middle" font-weight="bold" font-size="10.5" stroke="#000" stroke-width="0.25">21Oct</text>
<text x="341.5" y="450" text-anchor="middle" font-size="9.7" stroke="#000" stroke-width="0.25">11</text>
<text x="341.5" y="936" text-anchor="middle" font-size="9.7" stroke="#000" stroke-width="0.25">11</text>
<text x="371.5" y="450" text-anchor="middle" font-size="9.7" stroke="#000" stroke-width="0.25">12</text>
<text x="371.5" y="936" text-anchor="middle" font-size="9.7" stroke="#000" stroke-width="0.25">12</text>
<text x="401.5" y="450" text-anchor="middle" font-size="9.7" stroke="#000" stroke-width="0.25">1</text>
<text x="401.5" y="936" text-anchor="middle" font-size="9.7" stroke="#000" stroke-width="0.25">1</text>
<text x="431.5" y="450" text-anchor="middle" font-size="9.7" stroke="#000" stroke-width="0.25">2</text>
<text x="431.5" y="936" text-anchor="middle" font-size="9.7" stroke="#000" stroke-width="0.25">2</text>
<text x="461.5" y="450" text-anchor="middle" font-size="9.7" stroke="#000" stroke-width="0.25">3</text>
<text x="461.5" y="936" text-anchor="middle" font-size="9.7" stroke="#000" stroke-width="0.25">3</text>
<text x="491.5" y="450" text-anchor="middle" font-weight="bold" font-size="10.5" stroke="#000" stroke-width="0.25">22Oct</text>
<text x="491.5" y="936" text-anchor="middle" font-weight="bold" font-size="10.5" stroke="#000" stroke-width="0.25">22Oct</text>
<text x="536.5" y="450" text-anchor="middle" font-size="9.7" stroke="#000" stroke-width="0.25">11</text>
<text x="536.5" y="936" text-anchor="middle" font-size="9.7" stroke="#000" stroke-width="0.25">11</text>
<text x="566.5" y="450" text-anchor="middle" font-size="9.7" stroke="#000" stroke-width="0.25">12</text>
<text x="566.5" y="936" text-anchor="middle" font-size="9.7" stroke="#000" stroke-width="0.25">12</text>
<text x="596.5" y="450" text-anchor="middle" font-size="9.7" stroke="#000" stroke-width="0.25">1</text>
<text x="596.5" y="936" text-anchor="middle" font-size="9.7" stroke="#000" stroke-width="0.25">1</text>
<text x="626.5" y="450" text-anchor="middle" font-size="9.7" stroke="#000" stroke-width="0.25">2</text>
<text x="626.5" y="936" text-anchor="middle" font-size="9.7" stroke="#000" stroke-width="0.25">2</text>
<text x="656.5" y="450" text-anchor="middle" font-size="9.7" stroke="#000" stroke-width="0.25">3</text>
<text x="656.5" y="936" text-anchor="middle" font-size="9.7" stroke="#000" stroke-width="0.25">3</text>
<text x="686.5" y="450" text-anchor="middle" font-weight="bold" font-size="10.5" stroke="#000" stroke-width="0.25">23Oct</text>
<text x="686.5" y="936" text-anchor="middle" font-weight="bold" font-size="10.5" stroke="#000" stroke-width="0.25">23Oct</text>
<text x="731.5" y="450" text-anchor="middle" font-size="9.7" stroke="#000" stroke-width="0.25">11</text>
<text x="731.5" y="936" text-anchor="middle" font-size="9.7" stroke="#000" stroke-width="0.25">11</text>
<text x="761.5" y="450" text-anchor="middle" font-size="9.7" stroke="#000" stroke-width="0.25">12</text>
<text x="761.5" y="936" text-anchor="middle" font-size="9.7" stroke="#000" stroke-width="0.25">12</text>
<text x="791.5" y="450" text-anchor="middle" font-size="9.7" stroke="#000" stroke-width="0.25">1</text>
<text x="791.5" y="936" text-anchor="middle" font-size="9.7" stroke="#000" stroke-width="0.25">1</text>
<text x="821.5" y="450" text-anchor="middle" font-size="9.7" stroke="#000" stroke-width="0.25">2</text>
<text x="821.5" y="936" text-anchor="middle" font-size="9.7" stroke="#000" stroke-width="0.25">2</text>
<text x="851.5" y="450" text-anchor="middle" font-size="9.7" stroke="#000" stroke-width="0.25">3</text>
<text x="851.5" y="936" text-anchor="middle" font-size="9.7" stroke="#000" stroke-width="0.25">3</text>
<text x="881.5" y="450" text-anchor="middle" font-weight="bold" font-size="10.5" stroke="#000" stroke-width="0.25">24Oct</text>
<text x="881.5" y="936" text-anchor="middle" font-weight="bold" font-size="10.5" stroke="#000" stroke-width="0.25">24Oct</text>
<text x="926.5" y="450" text-anchor="middle" font-size="9.7" stroke="#000" stroke-width="0.25">11</text>
<text x="926.5" y="936" text-anchor="middle" font-size="9.7" stroke="#000" stroke-width="0.25">11</text>
<text x="16" y="13.5" font-size="13" font-weight="bold" textLength="33.5" lengthAdjust="spacingAndGlyphs" stroke="#000" stroke-width="0.25">$SPX</text>
<text x="54" y="12.8" font-size="10" textLength="123" lengthAdjust="spacingAndGlyphs" stroke="#000" stroke-width="0.25">S&amp;P 500 Large Cap Index</text>
<text x="182" y="12.8" font-size="9.5" textLength="22" lengthAdjust="spacingAndGlyphs" stroke="#000" stroke-width="0.25">INDX</text>
<text x="16" y="25.8" font-size="9.8" textLength="102.5" lengthAdjust="spacingAndGlyphs" stroke="#000" stroke-width="0.25">24-Oct-2024 11:25am</text>
<text x="854.5" y="12.5" font-size="9.8" fill="#555" textLength="88.5" lengthAdjust="spacingAndGlyphs" stroke="#555" stroke-width="0.25">© StockCharts.com</text>
<text x="542.8" y="25.8" font-size="10.8" font-weight="bold" textLength="28.6" lengthAdjust="spacingAndGlyphs" stroke="#000" stroke-width="0.25">Open</text>
<text x="574.2" y="25.8" font-size="9.4" textLength="38.4" lengthAdjust="spacingAndGlyphs" stroke="#000" stroke-width="0.25">5817.80</text>
<text x="619.5" y="25.8" font-size="10.8" font-weight="bold" textLength="24.0" lengthAdjust="spacingAndGlyphs" stroke="#000" stroke-width="0.25">High</text>
<text x="646.3" y="25.8" font-size="9.4" textLength="38.4" lengthAdjust="spacingAndGlyphs" stroke="#000" stroke-width="0.25">5817.80</text>
<text x="691.6" y="25.8" font-size="10.8" font-weight="bold" textLength="23.7" lengthAdjust="spacingAndGlyphs" stroke="#000" stroke-width="0.25">Low</text>
<text x="718.4" y="25.8" font-size="9.4" textLength="38.3" lengthAdjust="spacingAndGlyphs" stroke="#000" stroke-width="0.25">5801.00</text>
<text x="764" y="25.8" font-size="10.8" font-weight="bold" textLength="22.3" lengthAdjust="spacingAndGlyphs" stroke="#000" stroke-width="0.25">Last</text>
<text x="790.7" y="25.8" font-size="9.4" textLength="39.0" lengthAdjust="spacingAndGlyphs" stroke="#000" stroke-width="0.25">5805.34</text>
<text x="835.8" y="25.8" font-size="10.8" font-weight="bold" textLength="21.2" lengthAdjust="spacingAndGlyphs" stroke="#000" stroke-width="0.25">Chg</text>
<text x="860.6" y="25.8" font-size="9.4" textLength="72.7" lengthAdjust="spacingAndGlyphs" stroke="#000" stroke-width="0.25">+7.92 (+0.14%)</text>
<path d="M936,25.3L939.5,20.3L943,25.3Z" fill="#2e7d32"/>
<g font-size="10">
<g shape-rendering="crispEdges"><path d="M20.5,31v7M23.5,33v6M26.5,31v8" stroke="#000"/>
<rect x="19.5" y="32.5" width="2" height="4" fill="#fff" stroke="#000"/><rect x="22" y="34" width="3" height="4" fill="#000"/><rect x="25.5" y="32.5" width="2" height="5" fill="#fff" stroke="#000"/></g>
<text x="31.7" y="38.6" font-size="9.8" textLength="129.3" lengthAdjust="spacing" stroke="#000" stroke-width="0.25">$SPX (10 min) 5805.34</text>
<rect x="19" y="45" width="9" height="2" fill="#000088"/>
<text x="29.6" y="49.7" font-size="8.6" fill="#000088" textLength="74.8" lengthAdjust="spacingAndGlyphs" stroke="#000088" stroke-width="0.25">EMA(13) 5805.59</text>
<rect x="19" y="56" width="9" height="2" fill="#cc0033"/>
<text x="29.6" y="60.3" font-size="8.6" fill="#cc0033" textLength="74.8" lengthAdjust="spacingAndGlyphs" stroke="#cc0033" stroke-width="0.25">EMA(34) 5804.15</text>
<path d="M20,464v-5M22,464v-7M24,464v-8.5M26.5,464v-6" stroke="#555" stroke-width="1.5"/>
<text x="31.4" y="463.8" font-size="10.2" textLength="109.1" lengthAdjust="spacing" stroke="#000" stroke-width="0.25">Volume 14,015,352</text>
<rect x="19" y="603" width="9" height="2" fill="#000"/>
<text x="31.8" y="607.7" font-size="9.8" xml:space="preserve" textLength="198.9" lengthAdjust="spacing" stroke="#000" stroke-width="0.25">MACD(12,26,9) 2.589<tspan fill="#ff0000" stroke="#ff0000" stroke-width="0.25">, 1.549</tspan><tspan fill="#3399cc" stroke="#3399cc" stroke-width="0.25">, 1.040</tspan></text>
</g>
<g shape-rendering="crispEdges"><rect x="732" y="274" width="239" height="26" fill="rgb(226,94,94)" fill-opacity="0.28"/>
<path d="M731.5,273V301M971.5,273V301M732,273.5H971M732,300.5H971" stroke="rgb(230,100,100)" stroke-opacity="0.6" fill="none"/></g>
</svg></body></html>
